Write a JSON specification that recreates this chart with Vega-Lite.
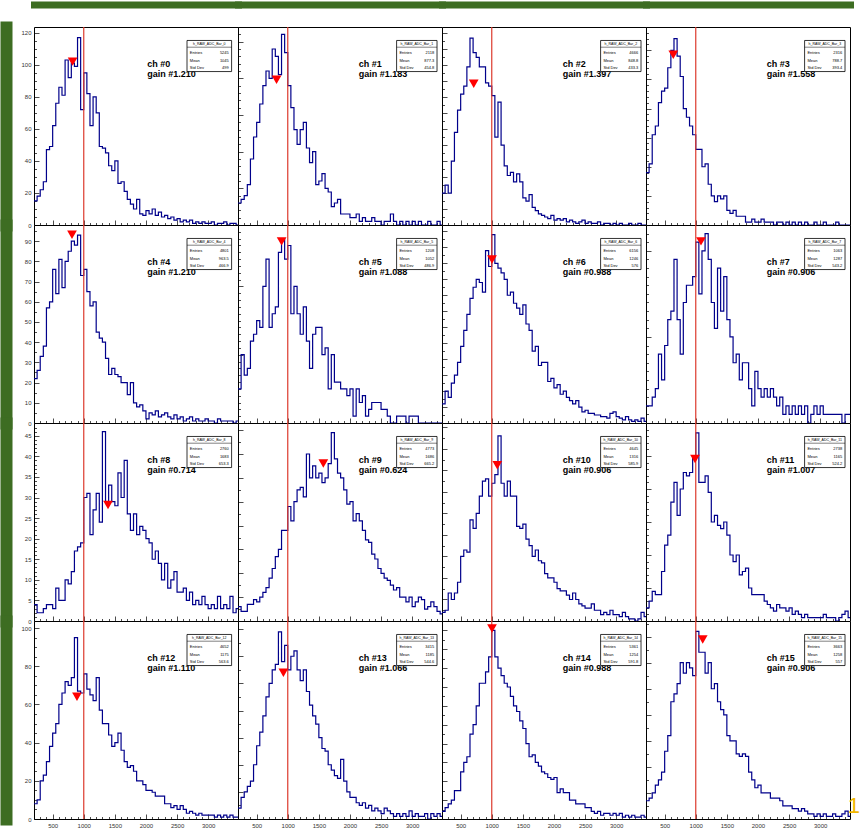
{
"$schema":"https://vega.github.io/schema/vega-lite/v6.json",
"background":"white",
"padding":{"left":5,"top":4,"right":0,"bottom":0},
"columns":4,"spacing":0,"bounds":"flush",
"datasets":{
"hist":[
{"ch":0,"adc":200,"n":15},{"ch":0,"adc":250,"n":18},{"ch":0,"adc":300,"n":22},{"ch":0,"adc":350,"n":27},{"ch":0,"adc":400,"n":47},{"ch":0,"adc":450,"n":49},{"ch":0,"adc":500,"n":62},{"ch":0,"adc":550,"n":76},{"ch":0,"adc":600,"n":86},{"ch":0,"adc":650,"n":81},{"ch":0,"adc":700,"n":103},{"ch":0,"adc":750,"n":92},{"ch":0,"adc":800,"n":101},{"ch":0,"adc":850,"n":99},{"ch":0,"adc":900,"n":117},{"ch":0,"adc":950,"n":72},{"ch":0,"adc":1000,"n":95},{"ch":0,"adc":1050,"n":82},{"ch":0,"adc":1100,"n":62},{"ch":0,"adc":1150,"n":80},{"ch":0,"adc":1200,"n":70},{"ch":0,"adc":1250,"n":49},{"ch":0,"adc":1300,"n":48},{"ch":0,"adc":1350,"n":45},{"ch":0,"adc":1400,"n":37},{"ch":0,"adc":1450,"n":34},{"ch":0,"adc":1500,"n":40},{"ch":0,"adc":1550,"n":26},{"ch":0,"adc":1600,"n":27},{"ch":0,"adc":1650,"n":21},{"ch":0,"adc":1700,"n":16},{"ch":0,"adc":1750,"n":13},{"ch":0,"adc":1800,"n":10},{"ch":0,"adc":1850,"n":16},{"ch":0,"adc":1900,"n":7},{"ch":0,"adc":1950,"n":6},{"ch":0,"adc":2000,"n":9},{"ch":0,"adc":2050,"n":7},{"ch":0,"adc":2100,"n":10},{"ch":0,"adc":2150,"n":6},{"ch":0,"adc":2200,"n":8},{"ch":0,"adc":2250,"n":5},{"ch":0,"adc":2300,"n":6},{"ch":0,"adc":2350,"n":4},{"ch":0,"adc":2400,"n":5},{"ch":0,"adc":2450,"n":3},{"ch":0,"adc":2500,"n":4},{"ch":0,"adc":2550,"n":2},{"ch":0,"adc":2600,"n":3},{"ch":0,"adc":2650,"n":2},{"ch":0,"adc":2700,"n":3},{"ch":0,"adc":2750,"n":1},{"ch":0,"adc":2800,"n":2},{"ch":0,"adc":2850,"n":1},{"ch":0,"adc":2900,"n":2},{"ch":0,"adc":2950,"n":1},{"ch":0,"adc":3000,"n":1},{"ch":0,"adc":3050,"n":2},{"ch":0,"adc":3100,"n":0},{"ch":0,"adc":3150,"n":1},{"ch":0,"adc":3200,"n":1},{"ch":0,"adc":3250,"n":2},{"ch":0,"adc":3300,"n":0},{"ch":0,"adc":3350,"n":1},{"ch":0,"adc":3400,"n":1},{"ch":0,"adc":3450,"n":0},{"ch":0,"adc":3500,"n":1},
{"ch":1,"adc":200,"n":6},{"ch":1,"adc":250,"n":7},{"ch":1,"adc":300,"n":8},{"ch":1,"adc":350,"n":11},{"ch":1,"adc":400,"n":18},{"ch":1,"adc":450,"n":24},{"ch":1,"adc":500,"n":28},{"ch":1,"adc":550,"n":33},{"ch":1,"adc":600,"n":38},{"ch":1,"adc":650,"n":42},{"ch":1,"adc":700,"n":40},{"ch":1,"adc":750,"n":48},{"ch":1,"adc":800,"n":46},{"ch":1,"adc":850,"n":41},{"ch":1,"adc":900,"n":52},{"ch":1,"adc":950,"n":47},{"ch":1,"adc":1000,"n":38},{"ch":1,"adc":1050,"n":32},{"ch":1,"adc":1100,"n":26},{"ch":1,"adc":1150,"n":22},{"ch":1,"adc":1200,"n":26},{"ch":1,"adc":1250,"n":28},{"ch":1,"adc":1300,"n":21},{"ch":1,"adc":1350,"n":17},{"ch":1,"adc":1400,"n":20},{"ch":1,"adc":1450,"n":11},{"ch":1,"adc":1500,"n":12},{"ch":1,"adc":1550,"n":14},{"ch":1,"adc":1600,"n":10},{"ch":1,"adc":1650,"n":9},{"ch":1,"adc":1700,"n":5},{"ch":1,"adc":1750,"n":6},{"ch":1,"adc":1800,"n":7},{"ch":1,"adc":1850,"n":3},{"ch":1,"adc":1900,"n":3},{"ch":1,"adc":1950,"n":3},{"ch":1,"adc":2000,"n":2},{"ch":1,"adc":2050,"n":2},{"ch":1,"adc":2100,"n":3},{"ch":1,"adc":2150,"n":1},{"ch":1,"adc":2200,"n":2},{"ch":1,"adc":2250,"n":1},{"ch":1,"adc":2300,"n":1},{"ch":1,"adc":2350,"n":2},{"ch":1,"adc":2400,"n":1},{"ch":1,"adc":2450,"n":1},{"ch":1,"adc":2500,"n":0},{"ch":1,"adc":2550,"n":1},{"ch":1,"adc":2600,"n":1},{"ch":1,"adc":2650,"n":3},{"ch":1,"adc":2700,"n":1},{"ch":1,"adc":2750,"n":0},{"ch":1,"adc":2800,"n":1},{"ch":1,"adc":2850,"n":0},{"ch":1,"adc":2900,"n":1},{"ch":1,"adc":2950,"n":0},{"ch":1,"adc":3000,"n":1},{"ch":1,"adc":3050,"n":0},{"ch":1,"adc":3100,"n":1},{"ch":1,"adc":3150,"n":0},{"ch":1,"adc":3200,"n":0},{"ch":1,"adc":3250,"n":1},{"ch":1,"adc":3300,"n":0},{"ch":1,"adc":3350,"n":0},{"ch":1,"adc":3400,"n":1},{"ch":1,"adc":3450,"n":0},{"ch":1,"adc":3500,"n":0},
{"ch":2,"adc":200,"n":20},{"ch":2,"adc":250,"n":25},{"ch":2,"adc":300,"n":20},{"ch":2,"adc":350,"n":40},{"ch":2,"adc":400,"n":58},{"ch":2,"adc":450,"n":72},{"ch":2,"adc":500,"n":82},{"ch":2,"adc":550,"n":87},{"ch":2,"adc":600,"n":99},{"ch":2,"adc":650,"n":117},{"ch":2,"adc":700,"n":108},{"ch":2,"adc":750,"n":105},{"ch":2,"adc":800,"n":99},{"ch":2,"adc":850,"n":99},{"ch":2,"adc":900,"n":89},{"ch":2,"adc":950,"n":87},{"ch":2,"adc":1000,"n":81},{"ch":2,"adc":1050,"n":55},{"ch":2,"adc":1100,"n":77},{"ch":2,"adc":1150,"n":50},{"ch":2,"adc":1200,"n":37},{"ch":2,"adc":1250,"n":31},{"ch":2,"adc":1300,"n":33},{"ch":2,"adc":1350,"n":27},{"ch":2,"adc":1400,"n":32},{"ch":2,"adc":1450,"n":27},{"ch":2,"adc":1500,"n":17},{"ch":2,"adc":1550,"n":15},{"ch":2,"adc":1600,"n":19},{"ch":2,"adc":1650,"n":11},{"ch":2,"adc":1700,"n":9},{"ch":2,"adc":1750,"n":7},{"ch":2,"adc":1800,"n":6},{"ch":2,"adc":1850,"n":5},{"ch":2,"adc":1900,"n":4},{"ch":2,"adc":1950,"n":6},{"ch":2,"adc":2000,"n":3},{"ch":2,"adc":2050,"n":4},{"ch":2,"adc":2100,"n":3},{"ch":2,"adc":2150,"n":4},{"ch":2,"adc":2200,"n":2},{"ch":2,"adc":2250,"n":3},{"ch":2,"adc":2300,"n":2},{"ch":2,"adc":2350,"n":1},{"ch":2,"adc":2400,"n":2},{"ch":2,"adc":2450,"n":3},{"ch":2,"adc":2500,"n":1},{"ch":2,"adc":2550,"n":2},{"ch":2,"adc":2600,"n":1},{"ch":2,"adc":2650,"n":1},{"ch":2,"adc":2700,"n":2},{"ch":2,"adc":2750,"n":0},{"ch":2,"adc":2800,"n":1},{"ch":2,"adc":2850,"n":1},{"ch":2,"adc":2900,"n":0},{"ch":2,"adc":2950,"n":1},{"ch":2,"adc":3000,"n":0},{"ch":2,"adc":3050,"n":1},{"ch":2,"adc":3100,"n":0},{"ch":2,"adc":3150,"n":0},{"ch":2,"adc":3200,"n":1},{"ch":2,"adc":3250,"n":0},{"ch":2,"adc":3300,"n":0},{"ch":2,"adc":3350,"n":1},{"ch":2,"adc":3400,"n":0},{"ch":2,"adc":3450,"n":0},{"ch":2,"adc":3500,"n":1},
{"ch":3,"adc":200,"n":18},{"ch":3,"adc":250,"n":21},{"ch":3,"adc":300,"n":31},{"ch":3,"adc":350,"n":34},{"ch":3,"adc":400,"n":42},{"ch":3,"adc":450,"n":46},{"ch":3,"adc":500,"n":47},{"ch":3,"adc":550,"n":54},{"ch":3,"adc":600,"n":60},{"ch":3,"adc":650,"n":64},{"ch":3,"adc":700,"n":58},{"ch":3,"adc":750,"n":51},{"ch":3,"adc":800,"n":40},{"ch":3,"adc":850,"n":37},{"ch":3,"adc":900,"n":34},{"ch":3,"adc":950,"n":31},{"ch":3,"adc":1000,"n":26},{"ch":3,"adc":1050,"n":26},{"ch":3,"adc":1100,"n":20},{"ch":3,"adc":1150,"n":21},{"ch":3,"adc":1200,"n":14},{"ch":3,"adc":1250,"n":10},{"ch":3,"adc":1300,"n":8},{"ch":3,"adc":1350,"n":10},{"ch":3,"adc":1400,"n":9},{"ch":3,"adc":1450,"n":10},{"ch":3,"adc":1500,"n":5},{"ch":3,"adc":1550,"n":4},{"ch":3,"adc":1600,"n":5},{"ch":3,"adc":1650,"n":3},{"ch":3,"adc":1700,"n":3},{"ch":3,"adc":1750,"n":3},{"ch":3,"adc":1800,"n":1},{"ch":3,"adc":1850,"n":1},{"ch":3,"adc":1900,"n":2},{"ch":3,"adc":1950,"n":1},{"ch":3,"adc":2000,"n":1},{"ch":3,"adc":2050,"n":2},{"ch":3,"adc":2100,"n":1},{"ch":3,"adc":2150,"n":1},{"ch":3,"adc":2200,"n":1},{"ch":3,"adc":2250,"n":0},{"ch":3,"adc":2300,"n":1},{"ch":3,"adc":2350,"n":1},{"ch":3,"adc":2400,"n":0},{"ch":3,"adc":2450,"n":1},{"ch":3,"adc":2500,"n":0},{"ch":3,"adc":2550,"n":1},{"ch":3,"adc":2600,"n":0},{"ch":3,"adc":2650,"n":1},{"ch":3,"adc":2700,"n":0},{"ch":3,"adc":2750,"n":1},{"ch":3,"adc":2800,"n":0},{"ch":3,"adc":2850,"n":0},{"ch":3,"adc":2900,"n":1},{"ch":3,"adc":2950,"n":0},{"ch":3,"adc":3000,"n":0},{"ch":3,"adc":3050,"n":1},{"ch":3,"adc":3100,"n":0},{"ch":3,"adc":3150,"n":0},{"ch":3,"adc":3200,"n":0},{"ch":3,"adc":3250,"n":1},{"ch":3,"adc":3300,"n":0},{"ch":3,"adc":3350,"n":0},{"ch":3,"adc":3400,"n":0},{"ch":3,"adc":3450,"n":0},{"ch":3,"adc":3500,"n":0},
{"ch":4,"adc":200,"n":22},{"ch":4,"adc":250,"n":26},{"ch":4,"adc":300,"n":33},{"ch":4,"adc":350,"n":38},{"ch":4,"adc":400,"n":57},{"ch":4,"adc":450,"n":60},{"ch":4,"adc":500,"n":76},{"ch":4,"adc":550,"n":64},{"ch":4,"adc":600,"n":81},{"ch":4,"adc":650,"n":67},{"ch":4,"adc":700,"n":80},{"ch":4,"adc":750,"n":85},{"ch":4,"adc":800,"n":90},{"ch":4,"adc":850,"n":88},{"ch":4,"adc":900,"n":93},{"ch":4,"adc":950,"n":73},{"ch":4,"adc":1000,"n":76},{"ch":4,"adc":1050,"n":65},{"ch":4,"adc":1100,"n":58},{"ch":4,"adc":1150,"n":60},{"ch":4,"adc":1200,"n":45},{"ch":4,"adc":1250,"n":42},{"ch":4,"adc":1300,"n":40},{"ch":4,"adc":1350,"n":32},{"ch":4,"adc":1400,"n":24},{"ch":4,"adc":1450,"n":27},{"ch":4,"adc":1500,"n":24},{"ch":4,"adc":1550,"n":23},{"ch":4,"adc":1600,"n":20},{"ch":4,"adc":1650,"n":20},{"ch":4,"adc":1700,"n":14},{"ch":4,"adc":1750,"n":20},{"ch":4,"adc":1800,"n":10},{"ch":4,"adc":1850,"n":8},{"ch":4,"adc":1900,"n":9},{"ch":4,"adc":1950,"n":6},{"ch":4,"adc":2000,"n":2},{"ch":4,"adc":2050,"n":5},{"ch":4,"adc":2100,"n":4},{"ch":4,"adc":2150,"n":6},{"ch":4,"adc":2200,"n":3},{"ch":4,"adc":2250,"n":4},{"ch":4,"adc":2300,"n":5},{"ch":4,"adc":2350,"n":3},{"ch":4,"adc":2400,"n":2},{"ch":4,"adc":2450,"n":4},{"ch":4,"adc":2500,"n":2},{"ch":4,"adc":2550,"n":3},{"ch":4,"adc":2600,"n":1},{"ch":4,"adc":2650,"n":2},{"ch":4,"adc":2700,"n":3},{"ch":4,"adc":2750,"n":1},{"ch":4,"adc":2800,"n":2},{"ch":4,"adc":2850,"n":1},{"ch":4,"adc":2900,"n":1},{"ch":4,"adc":2950,"n":2},{"ch":4,"adc":3000,"n":1},{"ch":4,"adc":3050,"n":1},{"ch":4,"adc":3100,"n":0},{"ch":4,"adc":3150,"n":2},{"ch":4,"adc":3200,"n":1},{"ch":4,"adc":3250,"n":1},{"ch":4,"adc":3300,"n":1},{"ch":4,"adc":3350,"n":1},{"ch":4,"adc":3400,"n":0},{"ch":4,"adc":3450,"n":1},{"ch":4,"adc":3500,"n":1},
{"ch":5,"adc":200,"n":5},{"ch":5,"adc":250,"n":10},{"ch":5,"adc":300,"n":7},{"ch":5,"adc":350,"n":8},{"ch":5,"adc":400,"n":12},{"ch":5,"adc":450,"n":13},{"ch":5,"adc":500,"n":15},{"ch":5,"adc":550,"n":14},{"ch":5,"adc":600,"n":20},{"ch":5,"adc":650,"n":24},{"ch":5,"adc":700,"n":14},{"ch":5,"adc":750,"n":16},{"ch":5,"adc":800,"n":17},{"ch":5,"adc":850,"n":25},{"ch":5,"adc":900,"n":27},{"ch":5,"adc":950,"n":24},{"ch":5,"adc":1000,"n":26},{"ch":5,"adc":1050,"n":16},{"ch":5,"adc":1100,"n":20},{"ch":5,"adc":1150,"n":16},{"ch":5,"adc":1200,"n":13},{"ch":5,"adc":1250,"n":17},{"ch":5,"adc":1300,"n":12},{"ch":5,"adc":1350,"n":8},{"ch":5,"adc":1400,"n":13},{"ch":5,"adc":1450,"n":14},{"ch":5,"adc":1500,"n":14},{"ch":5,"adc":1550,"n":10},{"ch":5,"adc":1600,"n":11},{"ch":5,"adc":1650,"n":5},{"ch":5,"adc":1700,"n":10},{"ch":5,"adc":1750,"n":6},{"ch":5,"adc":1800,"n":6},{"ch":5,"adc":1850,"n":5},{"ch":5,"adc":1900,"n":5},{"ch":5,"adc":1950,"n":4},{"ch":5,"adc":2000,"n":5},{"ch":5,"adc":2050,"n":1},{"ch":5,"adc":2100,"n":5},{"ch":5,"adc":2150,"n":3},{"ch":5,"adc":2200,"n":4},{"ch":5,"adc":2250,"n":1},{"ch":5,"adc":2300,"n":2},{"ch":5,"adc":2350,"n":3},{"ch":5,"adc":2400,"n":3},{"ch":5,"adc":2450,"n":3},{"ch":5,"adc":2500,"n":2},{"ch":5,"adc":2550,"n":2},{"ch":5,"adc":2600,"n":1},{"ch":5,"adc":2650,"n":0},{"ch":5,"adc":2700,"n":0},{"ch":5,"adc":2750,"n":1},{"ch":5,"adc":2800,"n":1},{"ch":5,"adc":2850,"n":1},{"ch":5,"adc":2900,"n":0},{"ch":5,"adc":2950,"n":1},{"ch":5,"adc":3000,"n":1},{"ch":5,"adc":3050,"n":1},{"ch":5,"adc":3100,"n":0},{"ch":5,"adc":3150,"n":0},{"ch":5,"adc":3200,"n":0},{"ch":5,"adc":3250,"n":0},{"ch":5,"adc":3300,"n":0},{"ch":5,"adc":3350,"n":0},{"ch":5,"adc":3400,"n":0},{"ch":5,"adc":3450,"n":0},{"ch":5,"adc":3500,"n":0},
{"ch":6,"adc":200,"n":12},{"ch":6,"adc":250,"n":20},{"ch":6,"adc":300,"n":16},{"ch":6,"adc":350,"n":25},{"ch":6,"adc":400,"n":30},{"ch":6,"adc":450,"n":38},{"ch":6,"adc":500,"n":48},{"ch":6,"adc":550,"n":58},{"ch":6,"adc":600,"n":68},{"ch":6,"adc":650,"n":78},{"ch":6,"adc":700,"n":85},{"ch":6,"adc":750,"n":90},{"ch":6,"adc":800,"n":88},{"ch":6,"adc":850,"n":82},{"ch":6,"adc":900,"n":108},{"ch":6,"adc":950,"n":98},{"ch":6,"adc":1000,"n":118},{"ch":6,"adc":1050,"n":100},{"ch":6,"adc":1100,"n":97},{"ch":6,"adc":1150,"n":94},{"ch":6,"adc":1200,"n":90},{"ch":6,"adc":1250,"n":80},{"ch":6,"adc":1300,"n":82},{"ch":6,"adc":1350,"n":75},{"ch":6,"adc":1400,"n":72},{"ch":6,"adc":1450,"n":68},{"ch":6,"adc":1500,"n":74},{"ch":6,"adc":1550,"n":62},{"ch":6,"adc":1600,"n":58},{"ch":6,"adc":1650,"n":45},{"ch":6,"adc":1700,"n":48},{"ch":6,"adc":1750,"n":36},{"ch":6,"adc":1800,"n":38},{"ch":6,"adc":1850,"n":38},{"ch":6,"adc":1900,"n":26},{"ch":6,"adc":1950,"n":28},{"ch":6,"adc":2000,"n":22},{"ch":6,"adc":2050,"n":24},{"ch":6,"adc":2100,"n":18},{"ch":6,"adc":2150,"n":20},{"ch":6,"adc":2200,"n":16},{"ch":6,"adc":2250,"n":14},{"ch":6,"adc":2300,"n":12},{"ch":6,"adc":2350,"n":14},{"ch":6,"adc":2400,"n":10},{"ch":6,"adc":2450,"n":7},{"ch":6,"adc":2500,"n":8},{"ch":6,"adc":2550,"n":6},{"ch":6,"adc":2600,"n":6},{"ch":6,"adc":2650,"n":5},{"ch":6,"adc":2700,"n":5},{"ch":6,"adc":2750,"n":4},{"ch":6,"adc":2800,"n":4},{"ch":6,"adc":2850,"n":3},{"ch":6,"adc":2900,"n":6},{"ch":6,"adc":2950,"n":7},{"ch":6,"adc":3000,"n":4},{"ch":6,"adc":3050,"n":3},{"ch":6,"adc":3100,"n":2},{"ch":6,"adc":3150,"n":4},{"ch":6,"adc":3200,"n":2},{"ch":6,"adc":3250,"n":1},{"ch":6,"adc":3300,"n":2},{"ch":6,"adc":3350,"n":1},{"ch":6,"adc":3400,"n":3},{"ch":6,"adc":3450,"n":1},{"ch":6,"adc":3500,"n":2},
{"ch":7,"adc":200,"n":2},{"ch":7,"adc":250,"n":2},{"ch":7,"adc":300,"n":3},{"ch":7,"adc":350,"n":4},{"ch":7,"adc":400,"n":8},{"ch":7,"adc":450,"n":5},{"ch":7,"adc":500,"n":9},{"ch":7,"adc":550,"n":12},{"ch":7,"adc":600,"n":13},{"ch":7,"adc":650,"n":19},{"ch":7,"adc":700,"n":12},{"ch":7,"adc":750,"n":8},{"ch":7,"adc":800,"n":14},{"ch":7,"adc":850,"n":16},{"ch":7,"adc":900,"n":16},{"ch":7,"adc":950,"n":17},{"ch":7,"adc":1000,"n":21},{"ch":7,"adc":1050,"n":15},{"ch":7,"adc":1100,"n":20},{"ch":7,"adc":1150,"n":22},{"ch":7,"adc":1200,"n":19},{"ch":7,"adc":1250,"n":14},{"ch":7,"adc":1300,"n":11},{"ch":7,"adc":1350,"n":18},{"ch":7,"adc":1400,"n":13},{"ch":7,"adc":1450,"n":17},{"ch":7,"adc":1500,"n":12},{"ch":7,"adc":1550,"n":10},{"ch":7,"adc":1600,"n":7},{"ch":7,"adc":1650,"n":8},{"ch":7,"adc":1700,"n":5},{"ch":7,"adc":1750,"n":7},{"ch":7,"adc":1800,"n":7},{"ch":7,"adc":1850,"n":4},{"ch":7,"adc":1900,"n":2},{"ch":7,"adc":1950,"n":6},{"ch":7,"adc":2000,"n":4},{"ch":7,"adc":2050,"n":3},{"ch":7,"adc":2100,"n":4},{"ch":7,"adc":2150,"n":3},{"ch":7,"adc":2200,"n":4},{"ch":7,"adc":2250,"n":3},{"ch":7,"adc":2300,"n":2},{"ch":7,"adc":2350,"n":3},{"ch":7,"adc":2400,"n":1},{"ch":7,"adc":2450,"n":2},{"ch":7,"adc":2500,"n":1},{"ch":7,"adc":2550,"n":2},{"ch":7,"adc":2600,"n":1},{"ch":7,"adc":2650,"n":2},{"ch":7,"adc":2700,"n":1},{"ch":7,"adc":2750,"n":2},{"ch":7,"adc":2800,"n":0},{"ch":7,"adc":2850,"n":1},{"ch":7,"adc":2900,"n":2},{"ch":7,"adc":2950,"n":1},{"ch":7,"adc":3000,"n":2},{"ch":7,"adc":3050,"n":1},{"ch":7,"adc":3100,"n":1},{"ch":7,"adc":3150,"n":1},{"ch":7,"adc":3200,"n":1},{"ch":7,"adc":3250,"n":1},{"ch":7,"adc":3300,"n":1},{"ch":7,"adc":3350,"n":0},{"ch":7,"adc":3400,"n":1},{"ch":7,"adc":3450,"n":1},{"ch":7,"adc":3500,"n":1},
{"ch":8,"adc":200,"n":4},{"ch":8,"adc":250,"n":2},{"ch":8,"adc":300,"n":2},{"ch":8,"adc":350,"n":3},{"ch":8,"adc":400,"n":4},{"ch":8,"adc":450,"n":4},{"ch":8,"adc":500,"n":3},{"ch":8,"adc":550,"n":8},{"ch":8,"adc":600,"n":5},{"ch":8,"adc":650,"n":5},{"ch":8,"adc":700,"n":10},{"ch":8,"adc":750,"n":9},{"ch":8,"adc":800,"n":12},{"ch":8,"adc":850,"n":17},{"ch":8,"adc":900,"n":18},{"ch":8,"adc":950,"n":19},{"ch":8,"adc":1000,"n":30},{"ch":8,"adc":1050,"n":31},{"ch":8,"adc":1100,"n":21},{"ch":8,"adc":1150,"n":27},{"ch":8,"adc":1200,"n":31},{"ch":8,"adc":1250,"n":24},{"ch":8,"adc":1300,"n":46},{"ch":8,"adc":1350,"n":29},{"ch":8,"adc":1400,"n":33},{"ch":8,"adc":1450,"n":29},{"ch":8,"adc":1500,"n":28},{"ch":8,"adc":1550,"n":36},{"ch":8,"adc":1600,"n":30},{"ch":8,"adc":1650,"n":39},{"ch":8,"adc":1700,"n":26},{"ch":8,"adc":1750,"n":22},{"ch":8,"adc":1800,"n":26},{"ch":8,"adc":1850,"n":21},{"ch":8,"adc":1900,"n":23},{"ch":8,"adc":1950,"n":22},{"ch":8,"adc":2000,"n":20},{"ch":8,"adc":2050,"n":19},{"ch":8,"adc":2100,"n":15},{"ch":8,"adc":2150,"n":17},{"ch":8,"adc":2200,"n":14},{"ch":8,"adc":2250,"n":10},{"ch":8,"adc":2300,"n":14},{"ch":8,"adc":2350,"n":8},{"ch":8,"adc":2400,"n":10},{"ch":8,"adc":2450,"n":12},{"ch":8,"adc":2500,"n":7},{"ch":8,"adc":2550,"n":7},{"ch":8,"adc":2600,"n":8},{"ch":8,"adc":2650,"n":5},{"ch":8,"adc":2700,"n":7},{"ch":8,"adc":2750,"n":4},{"ch":8,"adc":2800,"n":5},{"ch":8,"adc":2850,"n":4},{"ch":8,"adc":2900,"n":6},{"ch":8,"adc":2950,"n":4},{"ch":8,"adc":3000,"n":3},{"ch":8,"adc":3050,"n":4},{"ch":8,"adc":3100,"n":3},{"ch":8,"adc":3150,"n":6},{"ch":8,"adc":3200,"n":3},{"ch":8,"adc":3250,"n":4},{"ch":8,"adc":3300,"n":3},{"ch":8,"adc":3350,"n":6},{"ch":8,"adc":3400,"n":2},{"ch":8,"adc":3450,"n":3},{"ch":8,"adc":3500,"n":4},
{"ch":9,"adc":200,"n":6},{"ch":9,"adc":250,"n":4},{"ch":9,"adc":300,"n":4},{"ch":9,"adc":350,"n":7},{"ch":9,"adc":400,"n":7},{"ch":9,"adc":450,"n":9},{"ch":9,"adc":500,"n":8},{"ch":9,"adc":550,"n":10},{"ch":9,"adc":600,"n":12},{"ch":9,"adc":650,"n":14},{"ch":9,"adc":700,"n":18},{"ch":9,"adc":750,"n":22},{"ch":9,"adc":800,"n":27},{"ch":9,"adc":850,"n":30},{"ch":9,"adc":900,"n":38},{"ch":9,"adc":950,"n":38},{"ch":9,"adc":1000,"n":48},{"ch":9,"adc":1050,"n":42},{"ch":9,"adc":1100,"n":50},{"ch":9,"adc":1150,"n":55},{"ch":9,"adc":1200,"n":56},{"ch":9,"adc":1250,"n":52},{"ch":9,"adc":1300,"n":70},{"ch":9,"adc":1350,"n":60},{"ch":9,"adc":1400,"n":65},{"ch":9,"adc":1450,"n":60},{"ch":9,"adc":1500,"n":62},{"ch":9,"adc":1550,"n":58},{"ch":9,"adc":1600,"n":60},{"ch":9,"adc":1650,"n":66},{"ch":9,"adc":1700,"n":79},{"ch":9,"adc":1750,"n":68},{"ch":9,"adc":1800,"n":62},{"ch":9,"adc":1850,"n":60},{"ch":9,"adc":1900,"n":55},{"ch":9,"adc":1950,"n":49},{"ch":9,"adc":2000,"n":50},{"ch":9,"adc":2050,"n":42},{"ch":9,"adc":2100,"n":45},{"ch":9,"adc":2150,"n":42},{"ch":9,"adc":2200,"n":38},{"ch":9,"adc":2250,"n":34},{"ch":9,"adc":2300,"n":33},{"ch":9,"adc":2350,"n":28},{"ch":9,"adc":2400,"n":26},{"ch":9,"adc":2450,"n":22},{"ch":9,"adc":2500,"n":20},{"ch":9,"adc":2550,"n":18},{"ch":9,"adc":2600,"n":17},{"ch":9,"adc":2650,"n":15},{"ch":9,"adc":2700,"n":13},{"ch":9,"adc":2750,"n":14},{"ch":9,"adc":2800,"n":10},{"ch":9,"adc":2850,"n":10},{"ch":9,"adc":2900,"n":8},{"ch":9,"adc":2950,"n":10},{"ch":9,"adc":3000,"n":6},{"ch":9,"adc":3050,"n":8},{"ch":9,"adc":3100,"n":10},{"ch":9,"adc":3150,"n":9},{"ch":9,"adc":3200,"n":5},{"ch":9,"adc":3250,"n":6},{"ch":9,"adc":3300,"n":8},{"ch":9,"adc":3350,"n":6},{"ch":9,"adc":3400,"n":4},{"ch":9,"adc":3450,"n":3},{"ch":9,"adc":3500,"n":5},
{"ch":10,"adc":200,"n":4},{"ch":10,"adc":250,"n":5},{"ch":10,"adc":300,"n":13},{"ch":10,"adc":350,"n":10},{"ch":10,"adc":400,"n":13},{"ch":10,"adc":450,"n":18},{"ch":10,"adc":500,"n":30},{"ch":10,"adc":550,"n":33},{"ch":10,"adc":600,"n":32},{"ch":10,"adc":650,"n":47},{"ch":10,"adc":700,"n":43},{"ch":10,"adc":750,"n":50},{"ch":10,"adc":800,"n":58},{"ch":10,"adc":850,"n":65},{"ch":10,"adc":900,"n":66},{"ch":10,"adc":950,"n":58},{"ch":10,"adc":1000,"n":64},{"ch":10,"adc":1050,"n":68},{"ch":10,"adc":1100,"n":86},{"ch":10,"adc":1150,"n":64},{"ch":10,"adc":1200,"n":58},{"ch":10,"adc":1250,"n":65},{"ch":10,"adc":1300,"n":58},{"ch":10,"adc":1350,"n":58},{"ch":10,"adc":1400,"n":44},{"ch":10,"adc":1450,"n":43},{"ch":10,"adc":1500,"n":45},{"ch":10,"adc":1550,"n":38},{"ch":10,"adc":1600,"n":35},{"ch":10,"adc":1650,"n":30},{"ch":10,"adc":1700,"n":33},{"ch":10,"adc":1750,"n":28},{"ch":10,"adc":1800,"n":27},{"ch":10,"adc":1850,"n":22},{"ch":10,"adc":1900,"n":20},{"ch":10,"adc":1950,"n":20},{"ch":10,"adc":2000,"n":18},{"ch":10,"adc":2050,"n":15},{"ch":10,"adc":2100,"n":14},{"ch":10,"adc":2150,"n":14},{"ch":10,"adc":2200,"n":12},{"ch":10,"adc":2250,"n":10},{"ch":10,"adc":2300,"n":13},{"ch":10,"adc":2350,"n":10},{"ch":10,"adc":2400,"n":8},{"ch":10,"adc":2450,"n":7},{"ch":10,"adc":2500,"n":6},{"ch":10,"adc":2550,"n":6},{"ch":10,"adc":2600,"n":8},{"ch":10,"adc":2650,"n":5},{"ch":10,"adc":2700,"n":5},{"ch":10,"adc":2750,"n":3},{"ch":10,"adc":2800,"n":4},{"ch":10,"adc":2850,"n":3},{"ch":10,"adc":2900,"n":5},{"ch":10,"adc":2950,"n":3},{"ch":10,"adc":3000,"n":3},{"ch":10,"adc":3050,"n":2},{"ch":10,"adc":3100,"n":4},{"ch":10,"adc":3150,"n":2},{"ch":10,"adc":3200,"n":1},{"ch":10,"adc":3250,"n":1},{"ch":10,"adc":3300,"n":0},{"ch":10,"adc":3350,"n":1},{"ch":10,"adc":3400,"n":4},{"ch":10,"adc":3450,"n":2},{"ch":10,"adc":3500,"n":2},
{"ch":11,"adc":200,"n":4},{"ch":11,"adc":250,"n":6},{"ch":11,"adc":300,"n":9},{"ch":11,"adc":350,"n":8},{"ch":11,"adc":400,"n":8},{"ch":11,"adc":450,"n":15},{"ch":11,"adc":500,"n":23},{"ch":11,"adc":550,"n":26},{"ch":11,"adc":600,"n":36},{"ch":11,"adc":650,"n":42},{"ch":11,"adc":700,"n":32},{"ch":11,"adc":750,"n":40},{"ch":11,"adc":800,"n":45},{"ch":11,"adc":850,"n":44},{"ch":11,"adc":900,"n":45},{"ch":11,"adc":950,"n":50},{"ch":11,"adc":1000,"n":57},{"ch":11,"adc":1050,"n":42},{"ch":11,"adc":1100,"n":42},{"ch":11,"adc":1150,"n":44},{"ch":11,"adc":1200,"n":39},{"ch":11,"adc":1250,"n":30},{"ch":11,"adc":1300,"n":32},{"ch":11,"adc":1350,"n":29},{"ch":11,"adc":1400,"n":28},{"ch":11,"adc":1450,"n":30},{"ch":11,"adc":1500,"n":26},{"ch":11,"adc":1550,"n":20},{"ch":11,"adc":1600,"n":18},{"ch":11,"adc":1650,"n":20},{"ch":11,"adc":1700,"n":14},{"ch":11,"adc":1750,"n":15},{"ch":11,"adc":1800,"n":16},{"ch":11,"adc":1850,"n":10},{"ch":11,"adc":1900,"n":8},{"ch":11,"adc":1950,"n":8},{"ch":11,"adc":2000,"n":8},{"ch":11,"adc":2050,"n":8},{"ch":11,"adc":2100,"n":6},{"ch":11,"adc":2150,"n":5},{"ch":11,"adc":2200,"n":4},{"ch":11,"adc":2250,"n":3},{"ch":11,"adc":2300,"n":5},{"ch":11,"adc":2350,"n":4},{"ch":11,"adc":2400,"n":4},{"ch":11,"adc":2450,"n":3},{"ch":11,"adc":2500,"n":4},{"ch":11,"adc":2550,"n":2},{"ch":11,"adc":2600,"n":3},{"ch":11,"adc":2650,"n":2},{"ch":11,"adc":2700,"n":1},{"ch":11,"adc":2750,"n":2},{"ch":11,"adc":2800,"n":1},{"ch":11,"adc":2850,"n":1},{"ch":11,"adc":2900,"n":1},{"ch":11,"adc":2950,"n":1},{"ch":11,"adc":3000,"n":1},{"ch":11,"adc":3050,"n":2},{"ch":11,"adc":3100,"n":1},{"ch":11,"adc":3150,"n":1},{"ch":11,"adc":3200,"n":1},{"ch":11,"adc":3250,"n":0},{"ch":11,"adc":3300,"n":1},{"ch":11,"adc":3350,"n":2},{"ch":11,"adc":3400,"n":3},{"ch":11,"adc":3450,"n":1},{"ch":11,"adc":3500,"n":1},
{"ch":12,"adc":200,"n":8},{"ch":12,"adc":250,"n":10},{"ch":12,"adc":300,"n":20},{"ch":12,"adc":350,"n":23},{"ch":12,"adc":400,"n":30},{"ch":12,"adc":450,"n":38},{"ch":12,"adc":500,"n":45},{"ch":12,"adc":550,"n":50},{"ch":12,"adc":600,"n":60},{"ch":12,"adc":650,"n":66},{"ch":12,"adc":700,"n":72},{"ch":12,"adc":750,"n":70},{"ch":12,"adc":800,"n":74},{"ch":12,"adc":850,"n":95},{"ch":12,"adc":900,"n":67},{"ch":12,"adc":950,"n":66},{"ch":12,"adc":1000,"n":76},{"ch":12,"adc":1050,"n":68},{"ch":12,"adc":1100,"n":65},{"ch":12,"adc":1150,"n":62},{"ch":12,"adc":1200,"n":74},{"ch":12,"adc":1250,"n":57},{"ch":12,"adc":1300,"n":50},{"ch":12,"adc":1350,"n":50},{"ch":12,"adc":1400,"n":44},{"ch":12,"adc":1450,"n":38},{"ch":12,"adc":1500,"n":40},{"ch":12,"adc":1550,"n":45},{"ch":12,"adc":1600,"n":36},{"ch":12,"adc":1650,"n":30},{"ch":12,"adc":1700,"n":27},{"ch":12,"adc":1750,"n":28},{"ch":12,"adc":1800,"n":25},{"ch":12,"adc":1850,"n":20},{"ch":12,"adc":1900,"n":20},{"ch":12,"adc":1950,"n":18},{"ch":12,"adc":2000,"n":15},{"ch":12,"adc":2050,"n":15},{"ch":12,"adc":2100,"n":14},{"ch":12,"adc":2150,"n":12},{"ch":12,"adc":2200,"n":12},{"ch":12,"adc":2250,"n":12},{"ch":12,"adc":2300,"n":8},{"ch":12,"adc":2350,"n":8},{"ch":12,"adc":2400,"n":6},{"ch":12,"adc":2450,"n":7},{"ch":12,"adc":2500,"n":5},{"ch":12,"adc":2550,"n":7},{"ch":12,"adc":2600,"n":5},{"ch":12,"adc":2650,"n":3},{"ch":12,"adc":2700,"n":4},{"ch":12,"adc":2750,"n":3},{"ch":12,"adc":2800,"n":2},{"ch":12,"adc":2850,"n":3},{"ch":12,"adc":2900,"n":2},{"ch":12,"adc":2950,"n":2},{"ch":12,"adc":3000,"n":2},{"ch":12,"adc":3050,"n":2},{"ch":12,"adc":3100,"n":1},{"ch":12,"adc":3150,"n":2},{"ch":12,"adc":3200,"n":1},{"ch":12,"adc":3250,"n":2},{"ch":12,"adc":3300,"n":1},{"ch":12,"adc":3350,"n":2},{"ch":12,"adc":3400,"n":1},{"ch":12,"adc":3450,"n":1},{"ch":12,"adc":3500,"n":1},
{"ch":13,"adc":200,"n":4},{"ch":13,"adc":250,"n":8},{"ch":13,"adc":300,"n":10},{"ch":13,"adc":350,"n":12},{"ch":13,"adc":400,"n":14},{"ch":13,"adc":450,"n":20},{"ch":13,"adc":500,"n":27},{"ch":13,"adc":550,"n":32},{"ch":13,"adc":600,"n":38},{"ch":13,"adc":650,"n":45},{"ch":13,"adc":700,"n":50},{"ch":13,"adc":750,"n":55},{"ch":13,"adc":800,"n":57},{"ch":13,"adc":850,"n":69},{"ch":13,"adc":900,"n":58},{"ch":13,"adc":950,"n":64},{"ch":13,"adc":1000,"n":55},{"ch":13,"adc":1050,"n":60},{"ch":13,"adc":1100,"n":62},{"ch":13,"adc":1150,"n":55},{"ch":13,"adc":1200,"n":51},{"ch":13,"adc":1250,"n":55},{"ch":13,"adc":1300,"n":47},{"ch":13,"adc":1350,"n":42},{"ch":13,"adc":1400,"n":38},{"ch":13,"adc":1450,"n":35},{"ch":13,"adc":1500,"n":30},{"ch":13,"adc":1550,"n":26},{"ch":13,"adc":1600,"n":25},{"ch":13,"adc":1650,"n":20},{"ch":13,"adc":1700,"n":18},{"ch":13,"adc":1750,"n":16},{"ch":13,"adc":1800,"n":15},{"ch":13,"adc":1850,"n":22},{"ch":13,"adc":1900,"n":14},{"ch":13,"adc":1950,"n":10},{"ch":13,"adc":2000,"n":8},{"ch":13,"adc":2050,"n":8},{"ch":13,"adc":2100,"n":6},{"ch":13,"adc":2150,"n":5},{"ch":13,"adc":2200,"n":6},{"ch":13,"adc":2250,"n":4},{"ch":13,"adc":2300,"n":5},{"ch":13,"adc":2350,"n":3},{"ch":13,"adc":2400,"n":4},{"ch":13,"adc":2450,"n":3},{"ch":13,"adc":2500,"n":2},{"ch":13,"adc":2550,"n":4},{"ch":13,"adc":2600,"n":3},{"ch":13,"adc":2650,"n":2},{"ch":13,"adc":2700,"n":1},{"ch":13,"adc":2750,"n":2},{"ch":13,"adc":2800,"n":1},{"ch":13,"adc":2850,"n":2},{"ch":13,"adc":2900,"n":1},{"ch":13,"adc":2950,"n":3},{"ch":13,"adc":3000,"n":1},{"ch":13,"adc":3050,"n":2},{"ch":13,"adc":3100,"n":1},{"ch":13,"adc":3150,"n":1},{"ch":13,"adc":3200,"n":2},{"ch":13,"adc":3250,"n":0},{"ch":13,"adc":3300,"n":2},{"ch":13,"adc":3350,"n":1},{"ch":13,"adc":3400,"n":2},{"ch":13,"adc":3450,"n":1},{"ch":13,"adc":3500,"n":1},
{"ch":14,"adc":200,"n":4},{"ch":14,"adc":250,"n":6},{"ch":14,"adc":300,"n":8},{"ch":14,"adc":350,"n":10},{"ch":14,"adc":400,"n":15},{"ch":14,"adc":450,"n":15},{"ch":14,"adc":500,"n":25},{"ch":14,"adc":550,"n":30},{"ch":14,"adc":600,"n":33},{"ch":14,"adc":650,"n":45},{"ch":14,"adc":700,"n":50},{"ch":14,"adc":750,"n":60},{"ch":14,"adc":800,"n":72},{"ch":14,"adc":850,"n":72},{"ch":14,"adc":900,"n":78},{"ch":14,"adc":950,"n":86},{"ch":14,"adc":1000,"n":100},{"ch":14,"adc":1050,"n":86},{"ch":14,"adc":1100,"n":80},{"ch":14,"adc":1150,"n":76},{"ch":14,"adc":1200,"n":72},{"ch":14,"adc":1250,"n":70},{"ch":14,"adc":1300,"n":65},{"ch":14,"adc":1350,"n":60},{"ch":14,"adc":1400,"n":57},{"ch":14,"adc":1450,"n":52},{"ch":14,"adc":1500,"n":48},{"ch":14,"adc":1550,"n":40},{"ch":14,"adc":1600,"n":33},{"ch":14,"adc":1650,"n":34},{"ch":14,"adc":1700,"n":30},{"ch":14,"adc":1750,"n":28},{"ch":14,"adc":1800,"n":25},{"ch":14,"adc":1850,"n":24},{"ch":14,"adc":1900,"n":22},{"ch":14,"adc":1950,"n":21},{"ch":14,"adc":2000,"n":22},{"ch":14,"adc":2050,"n":14},{"ch":14,"adc":2100,"n":16},{"ch":14,"adc":2150,"n":14},{"ch":14,"adc":2200,"n":14},{"ch":14,"adc":2250,"n":10},{"ch":14,"adc":2300,"n":10},{"ch":14,"adc":2350,"n":8},{"ch":14,"adc":2400,"n":8},{"ch":14,"adc":2450,"n":8},{"ch":14,"adc":2500,"n":6},{"ch":14,"adc":2550,"n":6},{"ch":14,"adc":2600,"n":4},{"ch":14,"adc":2650,"n":3},{"ch":14,"adc":2700,"n":4},{"ch":14,"adc":2750,"n":2},{"ch":14,"adc":2800,"n":3},{"ch":14,"adc":2850,"n":3},{"ch":14,"adc":2900,"n":2},{"ch":14,"adc":2950,"n":3},{"ch":14,"adc":3000,"n":2},{"ch":14,"adc":3050,"n":3},{"ch":14,"adc":3100,"n":1},{"ch":14,"adc":3150,"n":2},{"ch":14,"adc":3200,"n":1},{"ch":14,"adc":3250,"n":2},{"ch":14,"adc":3300,"n":1},{"ch":14,"adc":3350,"n":1},{"ch":14,"adc":3400,"n":2},{"ch":14,"adc":3450,"n":1},{"ch":14,"adc":3500,"n":1},
{"ch":15,"adc":200,"n":7},{"ch":15,"adc":250,"n":8},{"ch":15,"adc":300,"n":10},{"ch":15,"adc":350,"n":13},{"ch":15,"adc":400,"n":15},{"ch":15,"adc":450,"n":18},{"ch":15,"adc":500,"n":26},{"ch":15,"adc":550,"n":32},{"ch":15,"adc":600,"n":45},{"ch":15,"adc":650,"n":48},{"ch":15,"adc":700,"n":52},{"ch":15,"adc":750,"n":60},{"ch":15,"adc":800,"n":56},{"ch":15,"adc":850,"n":60},{"ch":15,"adc":900,"n":58},{"ch":15,"adc":950,"n":55},{"ch":15,"adc":1000,"n":72},{"ch":15,"adc":1050,"n":64},{"ch":15,"adc":1100,"n":64},{"ch":15,"adc":1150,"n":56},{"ch":15,"adc":1200,"n":60},{"ch":15,"adc":1250,"n":50},{"ch":15,"adc":1300,"n":52},{"ch":15,"adc":1350,"n":45},{"ch":15,"adc":1400,"n":42},{"ch":15,"adc":1450,"n":40},{"ch":15,"adc":1500,"n":32},{"ch":15,"adc":1550,"n":30},{"ch":15,"adc":1600,"n":30},{"ch":15,"adc":1650,"n":25},{"ch":15,"adc":1700,"n":24},{"ch":15,"adc":1750,"n":25},{"ch":15,"adc":1800,"n":24},{"ch":15,"adc":1850,"n":18},{"ch":15,"adc":1900,"n":15},{"ch":15,"adc":1950,"n":12},{"ch":15,"adc":2000,"n":13},{"ch":15,"adc":2050,"n":10},{"ch":15,"adc":2100,"n":10},{"ch":15,"adc":2150,"n":10},{"ch":15,"adc":2200,"n":8},{"ch":15,"adc":2250,"n":8},{"ch":15,"adc":2300,"n":8},{"ch":15,"adc":2350,"n":7},{"ch":15,"adc":2400,"n":5},{"ch":15,"adc":2450,"n":5},{"ch":15,"adc":2500,"n":5},{"ch":15,"adc":2550,"n":4},{"ch":15,"adc":2600,"n":4},{"ch":15,"adc":2650,"n":3},{"ch":15,"adc":2700,"n":4},{"ch":15,"adc":2750,"n":3},{"ch":15,"adc":2800,"n":2},{"ch":15,"adc":2850,"n":2},{"ch":15,"adc":2900,"n":1},{"ch":15,"adc":2950,"n":2},{"ch":15,"adc":3000,"n":1},{"ch":15,"adc":3050,"n":2},{"ch":15,"adc":3100,"n":1},{"ch":15,"adc":3150,"n":1},{"ch":15,"adc":3200,"n":2},{"ch":15,"adc":3250,"n":1},{"ch":15,"adc":3300,"n":1},{"ch":15,"adc":3350,"n":2},{"ch":15,"adc":3400,"n":3},{"ch":15,"adc":3450,"n":1},{"ch":15,"adc":3500,"n":2}
],
"info":[
{"ch":0,"label":"ch #0","gain":"gain #1.210","px":821,"py":102,"h":"h_RAW_ADC_Bar_0","e":"5245","m":"1045","s":"499"},
{"ch":1,"label":"ch #1","gain":"gain #1.183","px":820,"py":39.6,"h":"h_RAW_ADC_Bar_1","e":"2118","m":"877.3","s":"454.8"},
{"ch":2,"label":"ch #2","gain":"gain #1.397","px":710,"py":88.5,"h":"h_RAW_ADC_Bar_2","e":"4666","m":"848.8","s":"433.3"},
{"ch":3,"label":"ch #3","gain":"gain #1.558","px":639,"py":58.5,"h":"h_RAW_ADC_Bar_3","e":"2316","m":"788.7","s":"393.4"},
{"ch":4,"label":"ch #4","gain":"gain #1.210","px":811,"py":93.2,"h":"h_RAW_ADC_Bar_4","e":"4801","m":"963.5","s":"466.9"},
{"ch":5,"label":"ch #5","gain":"gain #1.088","px":901,"py":26.6,"h":"h_RAW_ADC_Bar_5","e":"1208","m":"1052","s":"486.9"},
{"ch":6,"label":"ch #6","gain":"gain #0.988","px":1004,"py":102.4,"h":"h_RAW_ADC_Bar_6","e":"6156","m":"1246","s":"576"},
{"ch":7,"label":"ch #7","gain":"gain #0.906","px":1084,"py":21.1,"h":"h_RAW_ADC_Bar_7","e":"1063","m":"1287","s":"543.2"},
{"ch":8,"label":"ch #8","gain":"gain #0.714","px":1390,"py":28.2,"h":"h_RAW_ADC_Bar_8","e":"2760","m":"1683","s":"653.3"},
{"ch":9,"label":"ch #9","gain":"gain #0.624","px":1572,"py":66,"h":"h_RAW_ADC_Bar_9","e":"4773","m":"1686","s":"665.2"},
{"ch":10,"label":"ch #10","gain":"gain #0.906","px":1089,"py":72.4,"h":"h_RAW_ADC_Bar_10","e":"4645","m":"1316","s":"585.9"},
{"ch":11,"label":"ch #11","gain":"gain #1.007","px":988,"py":49.1,"h":"h_RAW_ADC_Bar_11","e":"2738","m":"1165","s":"524.2"},
{"ch":12,"label":"ch #12","gain":"gain #1.110","px":891,"py":64,"h":"h_RAW_ADC_Bar_12","e":"4652","m":"1175","s":"563.6"},
{"ch":13,"label":"ch #13","gain":"gain #1.066","px":930,"py":53.9,"h":"h_RAW_ADC_Bar_13","e":"3415","m":"1185","s":"544.6"},
{"ch":14,"label":"ch #14","gain":"gain #0.988","px":1004,"py":101,"h":"h_RAW_ADC_Bar_14","e":"5361","m":"1254","s":"591.8"},
{"ch":15,"label":"ch #15","gain":"gain #0.906","px":1112,"py":68.9,"h":"h_RAW_ADC_Bar_15","e":"3663","m":"1258","s":"557"}
]},
"concat":[
{"width":204,"height":198,"resolve":{"scale":{"y":"independent","x":"independent"}},"layer":[
{"data":{"name":"hist"},"transform":[{"filter":"datum.ch==0"}],"mark":{"type":"line","interpolate":"step-after","clip":true},"encoding":{"x":{"field":"adc","type":"quantitative","scale":{"domain":[200,3480],"nice":false},"title":null,"axis":{"tickSize":{"condition":{"test":"datum.value % 500 == 0","value":-5},"value":-2.5}}},"y":{"field":"n","type":"quantitative","scale":{"domain":[0,123.6],"nice":false},"title":null,"axis":{"labels":true,"tickCount":25,"labelExpr":"datum.value % 20 ? '' : datum.label","tickSize":{"condition":{"test":"datum.value % 20 == 0","value":-5},"value":-2.5}}}}},
{"data":{"name":"info"},"transform":[{"filter":"datum.ch==0"}],"resolve":{"scale":{"y":"independent"}},"layer":[
{"layer":[
{"mark":{"type":"rule","color":"#dc3a2e","strokeWidth":1.2},"encoding":{"x":{"datum":1000},"y":{"datum":0,"scale":{"domain":[0,1],"nice":false},"axis":null},"y2":{"datum":1}}},
{"mark":{"type":"text","style":"big"},"encoding":{"x":{"datum":2020},"y":{"datum":0.8,"scale":{"domain":[0,1],"nice":false},"axis":null},"text":{"field":"label"}}},
{"mark":{"type":"text","style":"big"},"encoding":{"x":{"datum":2020},"y":{"datum":0.75,"scale":{"domain":[0,1],"nice":false},"axis":null},"text":{"field":"gain"}}},
{"mark":{"type":"rect","fill":"white","stroke":"black","strokeWidth":0.8},"encoding":{"x":{"datum":2660},"x2":{"datum":3377},"y":{"datum":0.932,"scale":{"domain":[0,1],"nice":false},"axis":null},"y2":{"datum":0.775}}},
{"mark":{"type":"rule","color":"black","strokeWidth":0.5},"encoding":{"x":{"datum":2660},"x2":{"datum":3377},"y":{"datum":0.898,"scale":{"domain":[0,1],"nice":false},"axis":null}}},
{"mark":{"type":"text","style":"stt"},"encoding":{"x":{"datum":3018},"y":{"datum":0.915,"scale":{"domain":[0,1],"nice":false},"axis":null},"text":{"field":"h"}}},
{"mark":{"type":"text","style":"stl","text":"Entries"},"encoding":{"x":{"datum":2705},"y":{"datum":0.867,"scale":{"domain":[0,1],"nice":false},"axis":null}}},
{"mark":{"type":"text","style":"stl","text":"Mean"},"encoding":{"x":{"datum":2705},"y":{"datum":0.83,"scale":{"domain":[0,1],"nice":false},"axis":null}}},
{"mark":{"type":"text","style":"stl","text":"Std Dev"},"encoding":{"x":{"datum":2705},"y":{"datum":0.792,"scale":{"domain":[0,1],"nice":false},"axis":null}}},
{"mark":{"type":"text","style":"str"},"encoding":{"x":{"datum":3332},"y":{"datum":0.867,"scale":{"domain":[0,1],"nice":false},"axis":null},"text":{"field":"e"}}},
{"mark":{"type":"text","style":"str"},"encoding":{"x":{"datum":3332},"y":{"datum":0.83,"scale":{"domain":[0,1],"nice":false},"axis":null},"text":{"field":"m"}}},
{"mark":{"type":"text","style":"str"},"encoding":{"x":{"datum":3332},"y":{"datum":0.792,"scale":{"domain":[0,1],"nice":false},"axis":null},"text":{"field":"s"}}}
]},
{"mark":"point","encoding":{"x":{"field":"px","type":"quantitative","title":null,"scale":{"domain":[200,3480],"nice":false,"zero":false},"axis":{"orient":"top","offset":22.5,"domain":true,"domainColor":"#3d6d22","domainWidth":7,"domainCap":"square","ticks":false,"labels":false,"grid":false,"title":null}},"y":{"field":"py","type":"quantitative","scale":{"domain":[0,123.6],"nice":false},"axis":{"orient":"left","offset":28,"domain":true,"domainColor":"#3d6d22","domainWidth":12,"domainCap":"square","ticks":false,"labels":false,"grid":false,"title":null}}}}
]}]},
{"width":204,"height":198,"resolve":{"scale":{"y":"independent","x":"independent"}},"layer":[
{"data":{"name":"hist"},"transform":[{"filter":"datum.ch==1"}],"mark":{"type":"line","interpolate":"step-after","clip":true},"encoding":{"x":{"field":"adc","type":"quantitative","scale":{"domain":[200,3480],"nice":false},"title":null,"axis":{"tickSize":{"condition":{"test":"datum.value % 500 == 0","value":-5},"value":-2.5}}},"y":{"field":"n","type":"quantitative","scale":{"domain":[0,54],"nice":false},"title":null,"axis":{"tickSize":{"condition":{"test":"datum.value % 10 == 0","value":-5},"value":-2.5}}}}},
{"data":{"name":"info"},"transform":[{"filter":"datum.ch==1"}],"resolve":{"scale":{"y":"independent"}},"layer":[
{"layer":[
{"mark":{"type":"rule","color":"#dc3a2e","strokeWidth":1.2},"encoding":{"x":{"datum":1000},"y":{"datum":0,"scale":{"domain":[0,1],"nice":false},"axis":null},"y2":{"datum":1}}},
{"mark":{"type":"text","style":"big"},"encoding":{"x":{"datum":2140},"y":{"datum":0.8,"scale":{"domain":[0,1],"nice":false},"axis":null},"text":{"field":"label"}}},
{"mark":{"type":"text","style":"big"},"encoding":{"x":{"datum":2140},"y":{"datum":0.75,"scale":{"domain":[0,1],"nice":false},"axis":null},"text":{"field":"gain"}}},
{"mark":{"type":"rect","fill":"white","stroke":"black","strokeWidth":0.8},"encoding":{"x":{"datum":2750},"x2":{"datum":3400},"y":{"datum":0.932,"scale":{"domain":[0,1],"nice":false},"axis":null},"y2":{"datum":0.775}}},
{"mark":{"type":"rule","color":"black","strokeWidth":0.5},"encoding":{"x":{"datum":2750},"x2":{"datum":3400},"y":{"datum":0.898,"scale":{"domain":[0,1],"nice":false},"axis":null}}},
{"mark":{"type":"text","style":"stt"},"encoding":{"x":{"datum":3075},"y":{"datum":0.915,"scale":{"domain":[0,1],"nice":false},"axis":null},"text":{"field":"h"}}},
{"mark":{"type":"text","style":"stl","text":"Entries"},"encoding":{"x":{"datum":2795},"y":{"datum":0.867,"scale":{"domain":[0,1],"nice":false},"axis":null}}},
{"mark":{"type":"text","style":"stl","text":"Mean"},"encoding":{"x":{"datum":2795},"y":{"datum":0.83,"scale":{"domain":[0,1],"nice":false},"axis":null}}},
{"mark":{"type":"text","style":"stl","text":"Std Dev"},"encoding":{"x":{"datum":2795},"y":{"datum":0.792,"scale":{"domain":[0,1],"nice":false},"axis":null}}},
{"mark":{"type":"text","style":"str"},"encoding":{"x":{"datum":3355},"y":{"datum":0.867,"scale":{"domain":[0,1],"nice":false},"axis":null},"text":{"field":"e"}}},
{"mark":{"type":"text","style":"str"},"encoding":{"x":{"datum":3355},"y":{"datum":0.83,"scale":{"domain":[0,1],"nice":false},"axis":null},"text":{"field":"m"}}},
{"mark":{"type":"text","style":"str"},"encoding":{"x":{"datum":3355},"y":{"datum":0.792,"scale":{"domain":[0,1],"nice":false},"axis":null},"text":{"field":"s"}}}
]},
{"mark":"point","encoding":{"x":{"field":"px","type":"quantitative","title":null,"scale":{"domain":[200,3480],"nice":false,"zero":false},"axis":{"orient":"top","offset":22.5,"domain":true,"domainColor":"#3d6d22","domainWidth":7,"domainCap":"square","ticks":false,"labels":false,"grid":false,"title":null}},"y":{"field":"py","type":"quantitative","scale":{"domain":[0,54],"nice":false},"axis":null}}}
]}]},
{"width":204,"height":198,"resolve":{"scale":{"y":"independent","x":"independent"}},"layer":[
{"data":{"name":"hist"},"transform":[{"filter":"datum.ch==2"}],"mark":{"type":"line","interpolate":"step-after","clip":true},"encoding":{"x":{"field":"adc","type":"quantitative","scale":{"domain":[200,3480],"nice":false},"title":null,"axis":{"tickSize":{"condition":{"test":"datum.value % 500 == 0","value":-5},"value":-2.5}}},"y":{"field":"n","type":"quantitative","scale":{"domain":[0,124],"nice":false},"title":null,"axis":{"tickSize":{"condition":{"test":"datum.value % 10 == 0","value":-5},"value":-2.5}}}}},
{"data":{"name":"info"},"transform":[{"filter":"datum.ch==2"}],"resolve":{"scale":{"y":"independent"}},"layer":[
{"layer":[
{"mark":{"type":"rule","color":"#dc3a2e","strokeWidth":1.2},"encoding":{"x":{"datum":1000},"y":{"datum":0,"scale":{"domain":[0,1],"nice":false},"axis":null},"y2":{"datum":1}}},
{"mark":{"type":"text","style":"big"},"encoding":{"x":{"datum":2140},"y":{"datum":0.8,"scale":{"domain":[0,1],"nice":false},"axis":null},"text":{"field":"label"}}},
{"mark":{"type":"text","style":"big"},"encoding":{"x":{"datum":2140},"y":{"datum":0.75,"scale":{"domain":[0,1],"nice":false},"axis":null},"text":{"field":"gain"}}},
{"mark":{"type":"rect","fill":"white","stroke":"black","strokeWidth":0.8},"encoding":{"x":{"datum":2750},"x2":{"datum":3400},"y":{"datum":0.932,"scale":{"domain":[0,1],"nice":false},"axis":null},"y2":{"datum":0.775}}},
{"mark":{"type":"rule","color":"black","strokeWidth":0.5},"encoding":{"x":{"datum":2750},"x2":{"datum":3400},"y":{"datum":0.898,"scale":{"domain":[0,1],"nice":false},"axis":null}}},
{"mark":{"type":"text","style":"stt"},"encoding":{"x":{"datum":3075},"y":{"datum":0.915,"scale":{"domain":[0,1],"nice":false},"axis":null},"text":{"field":"h"}}},
{"mark":{"type":"text","style":"stl","text":"Entries"},"encoding":{"x":{"datum":2795},"y":{"datum":0.867,"scale":{"domain":[0,1],"nice":false},"axis":null}}},
{"mark":{"type":"text","style":"stl","text":"Mean"},"encoding":{"x":{"datum":2795},"y":{"datum":0.83,"scale":{"domain":[0,1],"nice":false},"axis":null}}},
{"mark":{"type":"text","style":"stl","text":"Std Dev"},"encoding":{"x":{"datum":2795},"y":{"datum":0.792,"scale":{"domain":[0,1],"nice":false},"axis":null}}},
{"mark":{"type":"text","style":"str"},"encoding":{"x":{"datum":3355},"y":{"datum":0.867,"scale":{"domain":[0,1],"nice":false},"axis":null},"text":{"field":"e"}}},
{"mark":{"type":"text","style":"str"},"encoding":{"x":{"datum":3355},"y":{"datum":0.83,"scale":{"domain":[0,1],"nice":false},"axis":null},"text":{"field":"m"}}},
{"mark":{"type":"text","style":"str"},"encoding":{"x":{"datum":3355},"y":{"datum":0.792,"scale":{"domain":[0,1],"nice":false},"axis":null},"text":{"field":"s"}}}
]},
{"mark":"point","encoding":{"x":{"field":"px","type":"quantitative","title":null,"scale":{"domain":[200,3480],"nice":false,"zero":false},"axis":{"orient":"top","offset":22.5,"domain":true,"domainColor":"#3d6d22","domainWidth":7,"domainCap":"square","ticks":false,"labels":false,"grid":false,"title":null}},"y":{"field":"py","type":"quantitative","scale":{"domain":[0,124],"nice":false},"axis":null}}}
]}]},
{"width":204,"height":198,"resolve":{"scale":{"y":"independent","x":"independent"}},"layer":[
{"data":{"name":"hist"},"transform":[{"filter":"datum.ch==3"}],"mark":{"type":"line","interpolate":"step-after","clip":true},"encoding":{"x":{"field":"adc","type":"quantitative","scale":{"domain":[200,3480],"nice":false},"title":null,"axis":{"tickSize":{"condition":{"test":"datum.value % 500 == 0","value":-5},"value":-2.5}}},"y":{"field":"n","type":"quantitative","scale":{"domain":[0,68],"nice":false},"title":null,"axis":{"tickSize":{"condition":{"test":"datum.value % 10 == 0","value":-5},"value":-2.5}}}}},
{"data":{"name":"info"},"transform":[{"filter":"datum.ch==3"}],"resolve":{"scale":{"y":"independent"}},"layer":[
{"layer":[
{"mark":{"type":"rule","color":"#dc3a2e","strokeWidth":1.2},"encoding":{"x":{"datum":1000},"y":{"datum":0,"scale":{"domain":[0,1],"nice":false},"axis":null},"y2":{"datum":1}}},
{"mark":{"type":"text","style":"big"},"encoding":{"x":{"datum":2140},"y":{"datum":0.8,"scale":{"domain":[0,1],"nice":false},"axis":null},"text":{"field":"label"}}},
{"mark":{"type":"text","style":"big"},"encoding":{"x":{"datum":2140},"y":{"datum":0.75,"scale":{"domain":[0,1],"nice":false},"axis":null},"text":{"field":"gain"}}},
{"mark":{"type":"rect","fill":"white","stroke":"black","strokeWidth":0.8},"encoding":{"x":{"datum":2750},"x2":{"datum":3400},"y":{"datum":0.932,"scale":{"domain":[0,1],"nice":false},"axis":null},"y2":{"datum":0.775}}},
{"mark":{"type":"rule","color":"black","strokeWidth":0.5},"encoding":{"x":{"datum":2750},"x2":{"datum":3400},"y":{"datum":0.898,"scale":{"domain":[0,1],"nice":false},"axis":null}}},
{"mark":{"type":"text","style":"stt"},"encoding":{"x":{"datum":3075},"y":{"datum":0.915,"scale":{"domain":[0,1],"nice":false},"axis":null},"text":{"field":"h"}}},
{"mark":{"type":"text","style":"stl","text":"Entries"},"encoding":{"x":{"datum":2795},"y":{"datum":0.867,"scale":{"domain":[0,1],"nice":false},"axis":null}}},
{"mark":{"type":"text","style":"stl","text":"Mean"},"encoding":{"x":{"datum":2795},"y":{"datum":0.83,"scale":{"domain":[0,1],"nice":false},"axis":null}}},
{"mark":{"type":"text","style":"stl","text":"Std Dev"},"encoding":{"x":{"datum":2795},"y":{"datum":0.792,"scale":{"domain":[0,1],"nice":false},"axis":null}}},
{"mark":{"type":"text","style":"str"},"encoding":{"x":{"datum":3355},"y":{"datum":0.867,"scale":{"domain":[0,1],"nice":false},"axis":null},"text":{"field":"e"}}},
{"mark":{"type":"text","style":"str"},"encoding":{"x":{"datum":3355},"y":{"datum":0.83,"scale":{"domain":[0,1],"nice":false},"axis":null},"text":{"field":"m"}}},
{"mark":{"type":"text","style":"str"},"encoding":{"x":{"datum":3355},"y":{"datum":0.792,"scale":{"domain":[0,1],"nice":false},"axis":null},"text":{"field":"s"}}}
]},
{"mark":"point","encoding":{"x":{"field":"px","type":"quantitative","title":null,"scale":{"domain":[200,3480],"nice":false,"zero":false},"axis":{"orient":"top","offset":22.5,"domain":true,"domainColor":"#3d6d22","domainWidth":7,"domainCap":"square","ticks":false,"labels":false,"grid":false,"title":null}},"y":{"field":"py","type":"quantitative","scale":{"domain":[0,68],"nice":false},"axis":null}}}
]}]},
{"width":204,"height":198,"resolve":{"scale":{"y":"independent"}},"layer":[
{"data":{"name":"hist"},"transform":[{"filter":"datum.ch==4"}],"mark":{"type":"line","interpolate":"step-after","clip":true},"encoding":{"x":{"field":"adc","type":"quantitative","scale":{"domain":[200,3480],"nice":false},"title":null,"axis":{"tickSize":{"condition":{"test":"datum.value % 500 == 0","value":-5},"value":-2.5}}},"y":{"field":"n","type":"quantitative","scale":{"domain":[0,98],"nice":false},"title":null,"axis":{"labels":true,"tickCount":20,"labelExpr":"datum.value % 10 ? '' : datum.label","tickSize":{"condition":{"test":"datum.value % 10 == 0","value":-5},"value":-2.5}}}}},
{"data":{"name":"info"},"transform":[{"filter":"datum.ch==4"}],"resolve":{"scale":{"y":"independent"}},"layer":[
{"layer":[
{"mark":{"type":"rule","color":"#dc3a2e","strokeWidth":1.2},"encoding":{"x":{"datum":1000},"y":{"datum":0,"scale":{"domain":[0,1],"nice":false},"axis":null},"y2":{"datum":1}}},
{"mark":{"type":"text","style":"big"},"encoding":{"x":{"datum":2020},"y":{"datum":0.8,"scale":{"domain":[0,1],"nice":false},"axis":null},"text":{"field":"label"}}},
{"mark":{"type":"text","style":"big"},"encoding":{"x":{"datum":2020},"y":{"datum":0.75,"scale":{"domain":[0,1],"nice":false},"axis":null},"text":{"field":"gain"}}},
{"mark":{"type":"rect","fill":"white","stroke":"black","strokeWidth":0.8},"encoding":{"x":{"datum":2660},"x2":{"datum":3377},"y":{"datum":0.932,"scale":{"domain":[0,1],"nice":false},"axis":null},"y2":{"datum":0.775}}},
{"mark":{"type":"rule","color":"black","strokeWidth":0.5},"encoding":{"x":{"datum":2660},"x2":{"datum":3377},"y":{"datum":0.898,"scale":{"domain":[0,1],"nice":false},"axis":null}}},
{"mark":{"type":"text","style":"stt"},"encoding":{"x":{"datum":3018},"y":{"datum":0.915,"scale":{"domain":[0,1],"nice":false},"axis":null},"text":{"field":"h"}}},
{"mark":{"type":"text","style":"stl","text":"Entries"},"encoding":{"x":{"datum":2705},"y":{"datum":0.867,"scale":{"domain":[0,1],"nice":false},"axis":null}}},
{"mark":{"type":"text","style":"stl","text":"Mean"},"encoding":{"x":{"datum":2705},"y":{"datum":0.83,"scale":{"domain":[0,1],"nice":false},"axis":null}}},
{"mark":{"type":"text","style":"stl","text":"Std Dev"},"encoding":{"x":{"datum":2705},"y":{"datum":0.792,"scale":{"domain":[0,1],"nice":false},"axis":null}}},
{"mark":{"type":"text","style":"str"},"encoding":{"x":{"datum":3332},"y":{"datum":0.867,"scale":{"domain":[0,1],"nice":false},"axis":null},"text":{"field":"e"}}},
{"mark":{"type":"text","style":"str"},"encoding":{"x":{"datum":3332},"y":{"datum":0.83,"scale":{"domain":[0,1],"nice":false},"axis":null},"text":{"field":"m"}}},
{"mark":{"type":"text","style":"str"},"encoding":{"x":{"datum":3332},"y":{"datum":0.792,"scale":{"domain":[0,1],"nice":false},"axis":null},"text":{"field":"s"}}}
]},
{"mark":"point","encoding":{"x":{"field":"px","type":"quantitative","title":null},"y":{"field":"py","type":"quantitative","scale":{"domain":[0,98],"nice":false},"axis":{"orient":"left","offset":28,"domain":true,"domainColor":"#3d6d22","domainWidth":12,"domainCap":"square","ticks":false,"labels":false,"grid":false,"title":null}}}}
]}]},
{"width":204,"height":198,"resolve":{"scale":{"y":"independent"}},"layer":[
{"data":{"name":"hist"},"transform":[{"filter":"datum.ch==5"}],"mark":{"type":"line","interpolate":"step-after","clip":true},"encoding":{"x":{"field":"adc","type":"quantitative","scale":{"domain":[200,3480],"nice":false},"title":null,"axis":{"tickSize":{"condition":{"test":"datum.value % 500 == 0","value":-5},"value":-2.5}}},"y":{"field":"n","type":"quantitative","scale":{"domain":[0,29],"nice":false},"title":null,"axis":{"tickSize":{"condition":{"test":"datum.value % 10 == 0","value":-5},"value":-2.5}}}}},
{"data":{"name":"info"},"transform":[{"filter":"datum.ch==5"}],"resolve":{"scale":{"y":"independent"}},"layer":[
{"layer":[
{"mark":{"type":"rule","color":"#dc3a2e","strokeWidth":1.2},"encoding":{"x":{"datum":1000},"y":{"datum":0,"scale":{"domain":[0,1],"nice":false},"axis":null},"y2":{"datum":1}}},
{"mark":{"type":"text","style":"big"},"encoding":{"x":{"datum":2140},"y":{"datum":0.8,"scale":{"domain":[0,1],"nice":false},"axis":null},"text":{"field":"label"}}},
{"mark":{"type":"text","style":"big"},"encoding":{"x":{"datum":2140},"y":{"datum":0.75,"scale":{"domain":[0,1],"nice":false},"axis":null},"text":{"field":"gain"}}},
{"mark":{"type":"rect","fill":"white","stroke":"black","strokeWidth":0.8},"encoding":{"x":{"datum":2750},"x2":{"datum":3400},"y":{"datum":0.932,"scale":{"domain":[0,1],"nice":false},"axis":null},"y2":{"datum":0.775}}},
{"mark":{"type":"rule","color":"black","strokeWidth":0.5},"encoding":{"x":{"datum":2750},"x2":{"datum":3400},"y":{"datum":0.898,"scale":{"domain":[0,1],"nice":false},"axis":null}}},
{"mark":{"type":"text","style":"stt"},"encoding":{"x":{"datum":3075},"y":{"datum":0.915,"scale":{"domain":[0,1],"nice":false},"axis":null},"text":{"field":"h"}}},
{"mark":{"type":"text","style":"stl","text":"Entries"},"encoding":{"x":{"datum":2795},"y":{"datum":0.867,"scale":{"domain":[0,1],"nice":false},"axis":null}}},
{"mark":{"type":"text","style":"stl","text":"Mean"},"encoding":{"x":{"datum":2795},"y":{"datum":0.83,"scale":{"domain":[0,1],"nice":false},"axis":null}}},
{"mark":{"type":"text","style":"stl","text":"Std Dev"},"encoding":{"x":{"datum":2795},"y":{"datum":0.792,"scale":{"domain":[0,1],"nice":false},"axis":null}}},
{"mark":{"type":"text","style":"str"},"encoding":{"x":{"datum":3355},"y":{"datum":0.867,"scale":{"domain":[0,1],"nice":false},"axis":null},"text":{"field":"e"}}},
{"mark":{"type":"text","style":"str"},"encoding":{"x":{"datum":3355},"y":{"datum":0.83,"scale":{"domain":[0,1],"nice":false},"axis":null},"text":{"field":"m"}}},
{"mark":{"type":"text","style":"str"},"encoding":{"x":{"datum":3355},"y":{"datum":0.792,"scale":{"domain":[0,1],"nice":false},"axis":null},"text":{"field":"s"}}}
]},
{"mark":"point","encoding":{"x":{"field":"px","type":"quantitative","title":null},"y":{"field":"py","type":"quantitative","scale":{"domain":[0,29],"nice":false},"axis":null}}}
]}]},
{"width":204,"height":198,"resolve":{"scale":{"y":"independent"}},"layer":[
{"data":{"name":"hist"},"transform":[{"filter":"datum.ch==6"}],"mark":{"type":"line","interpolate":"step-after","clip":true},"encoding":{"x":{"field":"adc","type":"quantitative","scale":{"domain":[200,3480],"nice":false},"title":null,"axis":{"tickSize":{"condition":{"test":"datum.value % 500 == 0","value":-5},"value":-2.5}}},"y":{"field":"n","type":"quantitative","scale":{"domain":[0,124],"nice":false},"title":null,"axis":{"tickSize":{"condition":{"test":"datum.value % 10 == 0","value":-5},"value":-2.5}}}}},
{"data":{"name":"info"},"transform":[{"filter":"datum.ch==6"}],"resolve":{"scale":{"y":"independent"}},"layer":[
{"layer":[
{"mark":{"type":"rule","color":"#dc3a2e","strokeWidth":1.2},"encoding":{"x":{"datum":1000},"y":{"datum":0,"scale":{"domain":[0,1],"nice":false},"axis":null},"y2":{"datum":1}}},
{"mark":{"type":"text","style":"big"},"encoding":{"x":{"datum":2140},"y":{"datum":0.8,"scale":{"domain":[0,1],"nice":false},"axis":null},"text":{"field":"label"}}},
{"mark":{"type":"text","style":"big"},"encoding":{"x":{"datum":2140},"y":{"datum":0.75,"scale":{"domain":[0,1],"nice":false},"axis":null},"text":{"field":"gain"}}},
{"mark":{"type":"rect","fill":"white","stroke":"black","strokeWidth":0.8},"encoding":{"x":{"datum":2750},"x2":{"datum":3400},"y":{"datum":0.932,"scale":{"domain":[0,1],"nice":false},"axis":null},"y2":{"datum":0.775}}},
{"mark":{"type":"rule","color":"black","strokeWidth":0.5},"encoding":{"x":{"datum":2750},"x2":{"datum":3400},"y":{"datum":0.898,"scale":{"domain":[0,1],"nice":false},"axis":null}}},
{"mark":{"type":"text","style":"stt"},"encoding":{"x":{"datum":3075},"y":{"datum":0.915,"scale":{"domain":[0,1],"nice":false},"axis":null},"text":{"field":"h"}}},
{"mark":{"type":"text","style":"stl","text":"Entries"},"encoding":{"x":{"datum":2795},"y":{"datum":0.867,"scale":{"domain":[0,1],"nice":false},"axis":null}}},
{"mark":{"type":"text","style":"stl","text":"Mean"},"encoding":{"x":{"datum":2795},"y":{"datum":0.83,"scale":{"domain":[0,1],"nice":false},"axis":null}}},
{"mark":{"type":"text","style":"stl","text":"Std Dev"},"encoding":{"x":{"datum":2795},"y":{"datum":0.792,"scale":{"domain":[0,1],"nice":false},"axis":null}}},
{"mark":{"type":"text","style":"str"},"encoding":{"x":{"datum":3355},"y":{"datum":0.867,"scale":{"domain":[0,1],"nice":false},"axis":null},"text":{"field":"e"}}},
{"mark":{"type":"text","style":"str"},"encoding":{"x":{"datum":3355},"y":{"datum":0.83,"scale":{"domain":[0,1],"nice":false},"axis":null},"text":{"field":"m"}}},
{"mark":{"type":"text","style":"str"},"encoding":{"x":{"datum":3355},"y":{"datum":0.792,"scale":{"domain":[0,1],"nice":false},"axis":null},"text":{"field":"s"}}}
]},
{"mark":"point","encoding":{"x":{"field":"px","type":"quantitative","title":null},"y":{"field":"py","type":"quantitative","scale":{"domain":[0,124],"nice":false},"axis":null}}}
]}]},
{"width":204,"height":198,"resolve":{"scale":{"y":"independent"}},"layer":[
{"data":{"name":"hist"},"transform":[{"filter":"datum.ch==7"}],"mark":{"type":"line","interpolate":"step-after","clip":true},"encoding":{"x":{"field":"adc","type":"quantitative","scale":{"domain":[200,3480],"nice":false},"title":null,"axis":{"tickSize":{"condition":{"test":"datum.value % 500 == 0","value":-5},"value":-2.5}}},"y":{"field":"n","type":"quantitative","scale":{"domain":[0,23],"nice":false},"title":null,"axis":{"tickSize":{"condition":{"test":"datum.value % 10 == 0","value":-5},"value":-2.5}}}}},
{"data":{"name":"info"},"transform":[{"filter":"datum.ch==7"}],"resolve":{"scale":{"y":"independent"}},"layer":[
{"layer":[
{"mark":{"type":"rule","color":"#dc3a2e","strokeWidth":1.2},"encoding":{"x":{"datum":1000},"y":{"datum":0,"scale":{"domain":[0,1],"nice":false},"axis":null},"y2":{"datum":1}}},
{"mark":{"type":"text","style":"big"},"encoding":{"x":{"datum":2140},"y":{"datum":0.8,"scale":{"domain":[0,1],"nice":false},"axis":null},"text":{"field":"label"}}},
{"mark":{"type":"text","style":"big"},"encoding":{"x":{"datum":2140},"y":{"datum":0.75,"scale":{"domain":[0,1],"nice":false},"axis":null},"text":{"field":"gain"}}},
{"mark":{"type":"rect","fill":"white","stroke":"black","strokeWidth":0.8},"encoding":{"x":{"datum":2750},"x2":{"datum":3400},"y":{"datum":0.932,"scale":{"domain":[0,1],"nice":false},"axis":null},"y2":{"datum":0.775}}},
{"mark":{"type":"rule","color":"black","strokeWidth":0.5},"encoding":{"x":{"datum":2750},"x2":{"datum":3400},"y":{"datum":0.898,"scale":{"domain":[0,1],"nice":false},"axis":null}}},
{"mark":{"type":"text","style":"stt"},"encoding":{"x":{"datum":3075},"y":{"datum":0.915,"scale":{"domain":[0,1],"nice":false},"axis":null},"text":{"field":"h"}}},
{"mark":{"type":"text","style":"stl","text":"Entries"},"encoding":{"x":{"datum":2795},"y":{"datum":0.867,"scale":{"domain":[0,1],"nice":false},"axis":null}}},
{"mark":{"type":"text","style":"stl","text":"Mean"},"encoding":{"x":{"datum":2795},"y":{"datum":0.83,"scale":{"domain":[0,1],"nice":false},"axis":null}}},
{"mark":{"type":"text","style":"stl","text":"Std Dev"},"encoding":{"x":{"datum":2795},"y":{"datum":0.792,"scale":{"domain":[0,1],"nice":false},"axis":null}}},
{"mark":{"type":"text","style":"str"},"encoding":{"x":{"datum":3355},"y":{"datum":0.867,"scale":{"domain":[0,1],"nice":false},"axis":null},"text":{"field":"e"}}},
{"mark":{"type":"text","style":"str"},"encoding":{"x":{"datum":3355},"y":{"datum":0.83,"scale":{"domain":[0,1],"nice":false},"axis":null},"text":{"field":"m"}}},
{"mark":{"type":"text","style":"str"},"encoding":{"x":{"datum":3355},"y":{"datum":0.792,"scale":{"domain":[0,1],"nice":false},"axis":null},"text":{"field":"s"}}}
]},
{"mark":"point","encoding":{"x":{"field":"px","type":"quantitative","title":null},"y":{"field":"py","type":"quantitative","scale":{"domain":[0,23],"nice":false},"axis":null}}}
]}]},
{"width":204,"height":198,"resolve":{"scale":{"y":"independent"}},"layer":[
{"data":{"name":"hist"},"transform":[{"filter":"datum.ch==8"}],"mark":{"type":"line","interpolate":"step-after","clip":true},"encoding":{"x":{"field":"adc","type":"quantitative","scale":{"domain":[200,3480],"nice":false},"title":null,"axis":{"tickSize":{"condition":{"test":"datum.value % 500 == 0","value":-5},"value":-2.5}}},"y":{"field":"n","type":"quantitative","scale":{"domain":[0,48.1],"nice":false},"title":null,"axis":{"labels":true,"tickCount":48,"labelExpr":"datum.value % 5 ? '' : datum.label","tickSize":{"condition":{"test":"datum.value % 5 == 0","value":-5},"value":-2.5}}}}},
{"data":{"name":"info"},"transform":[{"filter":"datum.ch==8"}],"resolve":{"scale":{"y":"independent"}},"layer":[
{"layer":[
{"mark":{"type":"rule","color":"#dc3a2e","strokeWidth":1.2},"encoding":{"x":{"datum":1000},"y":{"datum":0,"scale":{"domain":[0,1],"nice":false},"axis":null},"y2":{"datum":1}}},
{"mark":{"type":"text","style":"big"},"encoding":{"x":{"datum":2020},"y":{"datum":0.8,"scale":{"domain":[0,1],"nice":false},"axis":null},"text":{"field":"label"}}},
{"mark":{"type":"text","style":"big"},"encoding":{"x":{"datum":2020},"y":{"datum":0.75,"scale":{"domain":[0,1],"nice":false},"axis":null},"text":{"field":"gain"}}},
{"mark":{"type":"rect","fill":"white","stroke":"black","strokeWidth":0.8},"encoding":{"x":{"datum":2660},"x2":{"datum":3377},"y":{"datum":0.932,"scale":{"domain":[0,1],"nice":false},"axis":null},"y2":{"datum":0.775}}},
{"mark":{"type":"rule","color":"black","strokeWidth":0.5},"encoding":{"x":{"datum":2660},"x2":{"datum":3377},"y":{"datum":0.898,"scale":{"domain":[0,1],"nice":false},"axis":null}}},
{"mark":{"type":"text","style":"stt"},"encoding":{"x":{"datum":3018},"y":{"datum":0.915,"scale":{"domain":[0,1],"nice":false},"axis":null},"text":{"field":"h"}}},
{"mark":{"type":"text","style":"stl","text":"Entries"},"encoding":{"x":{"datum":2705},"y":{"datum":0.867,"scale":{"domain":[0,1],"nice":false},"axis":null}}},
{"mark":{"type":"text","style":"stl","text":"Mean"},"encoding":{"x":{"datum":2705},"y":{"datum":0.83,"scale":{"domain":[0,1],"nice":false},"axis":null}}},
{"mark":{"type":"text","style":"stl","text":"Std Dev"},"encoding":{"x":{"datum":2705},"y":{"datum":0.792,"scale":{"domain":[0,1],"nice":false},"axis":null}}},
{"mark":{"type":"text","style":"str"},"encoding":{"x":{"datum":3332},"y":{"datum":0.867,"scale":{"domain":[0,1],"nice":false},"axis":null},"text":{"field":"e"}}},
{"mark":{"type":"text","style":"str"},"encoding":{"x":{"datum":3332},"y":{"datum":0.83,"scale":{"domain":[0,1],"nice":false},"axis":null},"text":{"field":"m"}}},
{"mark":{"type":"text","style":"str"},"encoding":{"x":{"datum":3332},"y":{"datum":0.792,"scale":{"domain":[0,1],"nice":false},"axis":null},"text":{"field":"s"}}}
]},
{"mark":"point","encoding":{"x":{"field":"px","type":"quantitative","title":null},"y":{"field":"py","type":"quantitative","scale":{"domain":[0,48.1],"nice":false},"axis":{"orient":"left","offset":28,"domain":true,"domainColor":"#3d6d22","domainWidth":12,"domainCap":"square","ticks":false,"labels":false,"grid":false,"title":null}}}}
]}]},
{"width":204,"height":198,"resolve":{"scale":{"y":"independent"}},"layer":[
{"data":{"name":"hist"},"transform":[{"filter":"datum.ch==9"}],"mark":{"type":"line","interpolate":"step-after","clip":true},"encoding":{"x":{"field":"adc","type":"quantitative","scale":{"domain":[200,3480],"nice":false},"title":null,"axis":{"tickSize":{"condition":{"test":"datum.value % 500 == 0","value":-5},"value":-2.5}}},"y":{"field":"n","type":"quantitative","scale":{"domain":[0,83],"nice":false},"title":null,"axis":{"tickSize":{"condition":{"test":"datum.value % 10 == 0","value":-5},"value":-2.5}}}}},
{"data":{"name":"info"},"transform":[{"filter":"datum.ch==9"}],"resolve":{"scale":{"y":"independent"}},"layer":[
{"layer":[
{"mark":{"type":"rule","color":"#dc3a2e","strokeWidth":1.2},"encoding":{"x":{"datum":1000},"y":{"datum":0,"scale":{"domain":[0,1],"nice":false},"axis":null},"y2":{"datum":1}}},
{"mark":{"type":"text","style":"big"},"encoding":{"x":{"datum":2140},"y":{"datum":0.8,"scale":{"domain":[0,1],"nice":false},"axis":null},"text":{"field":"label"}}},
{"mark":{"type":"text","style":"big"},"encoding":{"x":{"datum":2140},"y":{"datum":0.75,"scale":{"domain":[0,1],"nice":false},"axis":null},"text":{"field":"gain"}}},
{"mark":{"type":"rect","fill":"white","stroke":"black","strokeWidth":0.8},"encoding":{"x":{"datum":2750},"x2":{"datum":3400},"y":{"datum":0.932,"scale":{"domain":[0,1],"nice":false},"axis":null},"y2":{"datum":0.775}}},
{"mark":{"type":"rule","color":"black","strokeWidth":0.5},"encoding":{"x":{"datum":2750},"x2":{"datum":3400},"y":{"datum":0.898,"scale":{"domain":[0,1],"nice":false},"axis":null}}},
{"mark":{"type":"text","style":"stt"},"encoding":{"x":{"datum":3075},"y":{"datum":0.915,"scale":{"domain":[0,1],"nice":false},"axis":null},"text":{"field":"h"}}},
{"mark":{"type":"text","style":"stl","text":"Entries"},"encoding":{"x":{"datum":2795},"y":{"datum":0.867,"scale":{"domain":[0,1],"nice":false},"axis":null}}},
{"mark":{"type":"text","style":"stl","text":"Mean"},"encoding":{"x":{"datum":2795},"y":{"datum":0.83,"scale":{"domain":[0,1],"nice":false},"axis":null}}},
{"mark":{"type":"text","style":"stl","text":"Std Dev"},"encoding":{"x":{"datum":2795},"y":{"datum":0.792,"scale":{"domain":[0,1],"nice":false},"axis":null}}},
{"mark":{"type":"text","style":"str"},"encoding":{"x":{"datum":3355},"y":{"datum":0.867,"scale":{"domain":[0,1],"nice":false},"axis":null},"text":{"field":"e"}}},
{"mark":{"type":"text","style":"str"},"encoding":{"x":{"datum":3355},"y":{"datum":0.83,"scale":{"domain":[0,1],"nice":false},"axis":null},"text":{"field":"m"}}},
{"mark":{"type":"text","style":"str"},"encoding":{"x":{"datum":3355},"y":{"datum":0.792,"scale":{"domain":[0,1],"nice":false},"axis":null},"text":{"field":"s"}}}
]},
{"mark":"point","encoding":{"x":{"field":"px","type":"quantitative","title":null},"y":{"field":"py","type":"quantitative","scale":{"domain":[0,83],"nice":false},"axis":null}}}
]}]},
{"width":204,"height":198,"resolve":{"scale":{"y":"independent"}},"layer":[
{"data":{"name":"hist"},"transform":[{"filter":"datum.ch==10"}],"mark":{"type":"line","interpolate":"step-after","clip":true},"encoding":{"x":{"field":"adc","type":"quantitative","scale":{"domain":[200,3480],"nice":false},"title":null,"axis":{"tickSize":{"condition":{"test":"datum.value % 500 == 0","value":-5},"value":-2.5}}},"y":{"field":"n","type":"quantitative","scale":{"domain":[0,92],"nice":false},"title":null,"axis":{"tickSize":{"condition":{"test":"datum.value % 10 == 0","value":-5},"value":-2.5}}}}},
{"data":{"name":"info"},"transform":[{"filter":"datum.ch==10"}],"resolve":{"scale":{"y":"independent"}},"layer":[
{"layer":[
{"mark":{"type":"rule","color":"#dc3a2e","strokeWidth":1.2},"encoding":{"x":{"datum":1000},"y":{"datum":0,"scale":{"domain":[0,1],"nice":false},"axis":null},"y2":{"datum":1}}},
{"mark":{"type":"text","style":"big"},"encoding":{"x":{"datum":2140},"y":{"datum":0.8,"scale":{"domain":[0,1],"nice":false},"axis":null},"text":{"field":"label"}}},
{"mark":{"type":"text","style":"big"},"encoding":{"x":{"datum":2140},"y":{"datum":0.75,"scale":{"domain":[0,1],"nice":false},"axis":null},"text":{"field":"gain"}}},
{"mark":{"type":"rect","fill":"white","stroke":"black","strokeWidth":0.8},"encoding":{"x":{"datum":2750},"x2":{"datum":3400},"y":{"datum":0.932,"scale":{"domain":[0,1],"nice":false},"axis":null},"y2":{"datum":0.775}}},
{"mark":{"type":"rule","color":"black","strokeWidth":0.5},"encoding":{"x":{"datum":2750},"x2":{"datum":3400},"y":{"datum":0.898,"scale":{"domain":[0,1],"nice":false},"axis":null}}},
{"mark":{"type":"text","style":"stt"},"encoding":{"x":{"datum":3075},"y":{"datum":0.915,"scale":{"domain":[0,1],"nice":false},"axis":null},"text":{"field":"h"}}},
{"mark":{"type":"text","style":"stl","text":"Entries"},"encoding":{"x":{"datum":2795},"y":{"datum":0.867,"scale":{"domain":[0,1],"nice":false},"axis":null}}},
{"mark":{"type":"text","style":"stl","text":"Mean"},"encoding":{"x":{"datum":2795},"y":{"datum":0.83,"scale":{"domain":[0,1],"nice":false},"axis":null}}},
{"mark":{"type":"text","style":"stl","text":"Std Dev"},"encoding":{"x":{"datum":2795},"y":{"datum":0.792,"scale":{"domain":[0,1],"nice":false},"axis":null}}},
{"mark":{"type":"text","style":"str"},"encoding":{"x":{"datum":3355},"y":{"datum":0.867,"scale":{"domain":[0,1],"nice":false},"axis":null},"text":{"field":"e"}}},
{"mark":{"type":"text","style":"str"},"encoding":{"x":{"datum":3355},"y":{"datum":0.83,"scale":{"domain":[0,1],"nice":false},"axis":null},"text":{"field":"m"}}},
{"mark":{"type":"text","style":"str"},"encoding":{"x":{"datum":3355},"y":{"datum":0.792,"scale":{"domain":[0,1],"nice":false},"axis":null},"text":{"field":"s"}}}
]},
{"mark":"point","encoding":{"x":{"field":"px","type":"quantitative","title":null},"y":{"field":"py","type":"quantitative","scale":{"domain":[0,92],"nice":false},"axis":null}}}
]}]},
{"width":204,"height":198,"resolve":{"scale":{"y":"independent"}},"layer":[
{"data":{"name":"hist"},"transform":[{"filter":"datum.ch==11"}],"mark":{"type":"line","interpolate":"step-after","clip":true},"encoding":{"x":{"field":"adc","type":"quantitative","scale":{"domain":[200,3480],"nice":false},"title":null,"axis":{"tickSize":{"condition":{"test":"datum.value % 500 == 0","value":-5},"value":-2.5}}},"y":{"field":"n","type":"quantitative","scale":{"domain":[0,60],"nice":false},"title":null,"axis":{"tickSize":{"condition":{"test":"datum.value % 10 == 0","value":-5},"value":-2.5}}}}},
{"data":{"name":"info"},"transform":[{"filter":"datum.ch==11"}],"resolve":{"scale":{"y":"independent"}},"layer":[
{"layer":[
{"mark":{"type":"rule","color":"#dc3a2e","strokeWidth":1.2},"encoding":{"x":{"datum":1000},"y":{"datum":0,"scale":{"domain":[0,1],"nice":false},"axis":null},"y2":{"datum":1}}},
{"mark":{"type":"text","style":"big"},"encoding":{"x":{"datum":2140},"y":{"datum":0.8,"scale":{"domain":[0,1],"nice":false},"axis":null},"text":{"field":"label"}}},
{"mark":{"type":"text","style":"big"},"encoding":{"x":{"datum":2140},"y":{"datum":0.75,"scale":{"domain":[0,1],"nice":false},"axis":null},"text":{"field":"gain"}}},
{"mark":{"type":"rect","fill":"white","stroke":"black","strokeWidth":0.8},"encoding":{"x":{"datum":2750},"x2":{"datum":3400},"y":{"datum":0.932,"scale":{"domain":[0,1],"nice":false},"axis":null},"y2":{"datum":0.775}}},
{"mark":{"type":"rule","color":"black","strokeWidth":0.5},"encoding":{"x":{"datum":2750},"x2":{"datum":3400},"y":{"datum":0.898,"scale":{"domain":[0,1],"nice":false},"axis":null}}},
{"mark":{"type":"text","style":"stt"},"encoding":{"x":{"datum":3075},"y":{"datum":0.915,"scale":{"domain":[0,1],"nice":false},"axis":null},"text":{"field":"h"}}},
{"mark":{"type":"text","style":"stl","text":"Entries"},"encoding":{"x":{"datum":2795},"y":{"datum":0.867,"scale":{"domain":[0,1],"nice":false},"axis":null}}},
{"mark":{"type":"text","style":"stl","text":"Mean"},"encoding":{"x":{"datum":2795},"y":{"datum":0.83,"scale":{"domain":[0,1],"nice":false},"axis":null}}},
{"mark":{"type":"text","style":"stl","text":"Std Dev"},"encoding":{"x":{"datum":2795},"y":{"datum":0.792,"scale":{"domain":[0,1],"nice":false},"axis":null}}},
{"mark":{"type":"text","style":"str"},"encoding":{"x":{"datum":3355},"y":{"datum":0.867,"scale":{"domain":[0,1],"nice":false},"axis":null},"text":{"field":"e"}}},
{"mark":{"type":"text","style":"str"},"encoding":{"x":{"datum":3355},"y":{"datum":0.83,"scale":{"domain":[0,1],"nice":false},"axis":null},"text":{"field":"m"}}},
{"mark":{"type":"text","style":"str"},"encoding":{"x":{"datum":3355},"y":{"datum":0.792,"scale":{"domain":[0,1],"nice":false},"axis":null},"text":{"field":"s"}}}
]},
{"mark":"point","encoding":{"x":{"field":"px","type":"quantitative","title":null},"y":{"field":"py","type":"quantitative","scale":{"domain":[0,60],"nice":false},"axis":null}}}
]}]},
{"width":204,"height":198,"resolve":{"scale":{"y":"independent"}},"layer":[
{"data":{"name":"hist"},"transform":[{"filter":"datum.ch==12"}],"mark":{"type":"line","interpolate":"step-after","clip":true},"encoding":{"x":{"field":"adc","type":"quantitative","scale":{"domain":[200,3480],"nice":false},"title":null,"axis":{"labels":true,"tickSize":{"condition":{"test":"datum.value % 500 == 0","value":-5},"value":-2.5}}},"y":{"field":"n","type":"quantitative","scale":{"domain":[0,103.7],"nice":false},"title":null,"axis":{"labels":true,"tickCount":21,"labelExpr":"datum.value % 20 ? '' : datum.label","tickSize":{"condition":{"test":"datum.value % 20 == 0","value":-5},"value":-2.5}}}}},
{"data":{"name":"info"},"transform":[{"filter":"datum.ch==12"}],"resolve":{"scale":{"y":"independent"}},"layer":[
{"layer":[
{"mark":{"type":"rule","color":"#dc3a2e","strokeWidth":1.2},"encoding":{"x":{"datum":1000},"y":{"datum":0,"scale":{"domain":[0,1],"nice":false},"axis":null},"y2":{"datum":1}}},
{"mark":{"type":"text","style":"big"},"encoding":{"x":{"datum":2020},"y":{"datum":0.8,"scale":{"domain":[0,1],"nice":false},"axis":null},"text":{"field":"label"}}},
{"mark":{"type":"text","style":"big"},"encoding":{"x":{"datum":2020},"y":{"datum":0.75,"scale":{"domain":[0,1],"nice":false},"axis":null},"text":{"field":"gain"}}},
{"mark":{"type":"rect","fill":"white","stroke":"black","strokeWidth":0.8},"encoding":{"x":{"datum":2660},"x2":{"datum":3377},"y":{"datum":0.932,"scale":{"domain":[0,1],"nice":false},"axis":null},"y2":{"datum":0.775}}},
{"mark":{"type":"rule","color":"black","strokeWidth":0.5},"encoding":{"x":{"datum":2660},"x2":{"datum":3377},"y":{"datum":0.898,"scale":{"domain":[0,1],"nice":false},"axis":null}}},
{"mark":{"type":"text","style":"stt"},"encoding":{"x":{"datum":3018},"y":{"datum":0.915,"scale":{"domain":[0,1],"nice":false},"axis":null},"text":{"field":"h"}}},
{"mark":{"type":"text","style":"stl","text":"Entries"},"encoding":{"x":{"datum":2705},"y":{"datum":0.867,"scale":{"domain":[0,1],"nice":false},"axis":null}}},
{"mark":{"type":"text","style":"stl","text":"Mean"},"encoding":{"x":{"datum":2705},"y":{"datum":0.83,"scale":{"domain":[0,1],"nice":false},"axis":null}}},
{"mark":{"type":"text","style":"stl","text":"Std Dev"},"encoding":{"x":{"datum":2705},"y":{"datum":0.792,"scale":{"domain":[0,1],"nice":false},"axis":null}}},
{"mark":{"type":"text","style":"str"},"encoding":{"x":{"datum":3332},"y":{"datum":0.867,"scale":{"domain":[0,1],"nice":false},"axis":null},"text":{"field":"e"}}},
{"mark":{"type":"text","style":"str"},"encoding":{"x":{"datum":3332},"y":{"datum":0.83,"scale":{"domain":[0,1],"nice":false},"axis":null},"text":{"field":"m"}}},
{"mark":{"type":"text","style":"str"},"encoding":{"x":{"datum":3332},"y":{"datum":0.792,"scale":{"domain":[0,1],"nice":false},"axis":null},"text":{"field":"s"}}}
]},
{"mark":"point","encoding":{"x":{"field":"px","type":"quantitative","title":null},"y":{"field":"py","type":"quantitative","scale":{"domain":[0,103.7],"nice":false},"axis":{"orient":"left","offset":28,"domain":true,"domainColor":"#3d6d22","domainWidth":12,"domainCap":"square","ticks":false,"labels":false,"grid":false,"title":null}}}}
]}]},
{"width":204,"height":198,"resolve":{"scale":{"y":"independent"}},"layer":[
{"data":{"name":"hist"},"transform":[{"filter":"datum.ch==13"}],"mark":{"type":"line","interpolate":"step-after","clip":true},"encoding":{"x":{"field":"adc","type":"quantitative","scale":{"domain":[200,3480],"nice":false},"title":null,"axis":{"labels":true,"tickSize":{"condition":{"test":"datum.value % 500 == 0","value":-5},"value":-2.5}}},"y":{"field":"n","type":"quantitative","scale":{"domain":[0,73],"nice":false},"title":null,"axis":{"tickSize":{"condition":{"test":"datum.value % 10 == 0","value":-5},"value":-2.5}}}}},
{"data":{"name":"info"},"transform":[{"filter":"datum.ch==13"}],"resolve":{"scale":{"y":"independent"}},"layer":[
{"layer":[
{"mark":{"type":"rule","color":"#dc3a2e","strokeWidth":1.2},"encoding":{"x":{"datum":1000},"y":{"datum":0,"scale":{"domain":[0,1],"nice":false},"axis":null},"y2":{"datum":1}}},
{"mark":{"type":"text","style":"big"},"encoding":{"x":{"datum":2140},"y":{"datum":0.8,"scale":{"domain":[0,1],"nice":false},"axis":null},"text":{"field":"label"}}},
{"mark":{"type":"text","style":"big"},"encoding":{"x":{"datum":2140},"y":{"datum":0.75,"scale":{"domain":[0,1],"nice":false},"axis":null},"text":{"field":"gain"}}},
{"mark":{"type":"rect","fill":"white","stroke":"black","strokeWidth":0.8},"encoding":{"x":{"datum":2750},"x2":{"datum":3400},"y":{"datum":0.932,"scale":{"domain":[0,1],"nice":false},"axis":null},"y2":{"datum":0.775}}},
{"mark":{"type":"rule","color":"black","strokeWidth":0.5},"encoding":{"x":{"datum":2750},"x2":{"datum":3400},"y":{"datum":0.898,"scale":{"domain":[0,1],"nice":false},"axis":null}}},
{"mark":{"type":"text","style":"stt"},"encoding":{"x":{"datum":3075},"y":{"datum":0.915,"scale":{"domain":[0,1],"nice":false},"axis":null},"text":{"field":"h"}}},
{"mark":{"type":"text","style":"stl","text":"Entries"},"encoding":{"x":{"datum":2795},"y":{"datum":0.867,"scale":{"domain":[0,1],"nice":false},"axis":null}}},
{"mark":{"type":"text","style":"stl","text":"Mean"},"encoding":{"x":{"datum":2795},"y":{"datum":0.83,"scale":{"domain":[0,1],"nice":false},"axis":null}}},
{"mark":{"type":"text","style":"stl","text":"Std Dev"},"encoding":{"x":{"datum":2795},"y":{"datum":0.792,"scale":{"domain":[0,1],"nice":false},"axis":null}}},
{"mark":{"type":"text","style":"str"},"encoding":{"x":{"datum":3355},"y":{"datum":0.867,"scale":{"domain":[0,1],"nice":false},"axis":null},"text":{"field":"e"}}},
{"mark":{"type":"text","style":"str"},"encoding":{"x":{"datum":3355},"y":{"datum":0.83,"scale":{"domain":[0,1],"nice":false},"axis":null},"text":{"field":"m"}}},
{"mark":{"type":"text","style":"str"},"encoding":{"x":{"datum":3355},"y":{"datum":0.792,"scale":{"domain":[0,1],"nice":false},"axis":null},"text":{"field":"s"}}}
]},
{"mark":"point","encoding":{"x":{"field":"px","type":"quantitative","title":null},"y":{"field":"py","type":"quantitative","scale":{"domain":[0,73],"nice":false},"axis":null}}}
]}]},
{"width":204,"height":198,"resolve":{"scale":{"y":"independent"}},"layer":[
{"data":{"name":"hist"},"transform":[{"filter":"datum.ch==14"}],"mark":{"type":"line","interpolate":"step-after","clip":true},"encoding":{"x":{"field":"adc","type":"quantitative","scale":{"domain":[200,3480],"nice":false},"title":null,"axis":{"labels":true,"tickSize":{"condition":{"test":"datum.value % 500 == 0","value":-5},"value":-2.5}}},"y":{"field":"n","type":"quantitative","scale":{"domain":[0,105],"nice":false},"title":null,"axis":{"tickSize":{"condition":{"test":"datum.value % 10 == 0","value":-5},"value":-2.5}}}}},
{"data":{"name":"info"},"transform":[{"filter":"datum.ch==14"}],"resolve":{"scale":{"y":"independent"}},"layer":[
{"layer":[
{"mark":{"type":"rule","color":"#dc3a2e","strokeWidth":1.2},"encoding":{"x":{"datum":1000},"y":{"datum":0,"scale":{"domain":[0,1],"nice":false},"axis":null},"y2":{"datum":1}}},
{"mark":{"type":"text","style":"big"},"encoding":{"x":{"datum":2140},"y":{"datum":0.8,"scale":{"domain":[0,1],"nice":false},"axis":null},"text":{"field":"label"}}},
{"mark":{"type":"text","style":"big"},"encoding":{"x":{"datum":2140},"y":{"datum":0.75,"scale":{"domain":[0,1],"nice":false},"axis":null},"text":{"field":"gain"}}},
{"mark":{"type":"rect","fill":"white","stroke":"black","strokeWidth":0.8},"encoding":{"x":{"datum":2750},"x2":{"datum":3400},"y":{"datum":0.932,"scale":{"domain":[0,1],"nice":false},"axis":null},"y2":{"datum":0.775}}},
{"mark":{"type":"rule","color":"black","strokeWidth":0.5},"encoding":{"x":{"datum":2750},"x2":{"datum":3400},"y":{"datum":0.898,"scale":{"domain":[0,1],"nice":false},"axis":null}}},
{"mark":{"type":"text","style":"stt"},"encoding":{"x":{"datum":3075},"y":{"datum":0.915,"scale":{"domain":[0,1],"nice":false},"axis":null},"text":{"field":"h"}}},
{"mark":{"type":"text","style":"stl","text":"Entries"},"encoding":{"x":{"datum":2795},"y":{"datum":0.867,"scale":{"domain":[0,1],"nice":false},"axis":null}}},
{"mark":{"type":"text","style":"stl","text":"Mean"},"encoding":{"x":{"datum":2795},"y":{"datum":0.83,"scale":{"domain":[0,1],"nice":false},"axis":null}}},
{"mark":{"type":"text","style":"stl","text":"Std Dev"},"encoding":{"x":{"datum":2795},"y":{"datum":0.792,"scale":{"domain":[0,1],"nice":false},"axis":null}}},
{"mark":{"type":"text","style":"str"},"encoding":{"x":{"datum":3355},"y":{"datum":0.867,"scale":{"domain":[0,1],"nice":false},"axis":null},"text":{"field":"e"}}},
{"mark":{"type":"text","style":"str"},"encoding":{"x":{"datum":3355},"y":{"datum":0.83,"scale":{"domain":[0,1],"nice":false},"axis":null},"text":{"field":"m"}}},
{"mark":{"type":"text","style":"str"},"encoding":{"x":{"datum":3355},"y":{"datum":0.792,"scale":{"domain":[0,1],"nice":false},"axis":null},"text":{"field":"s"}}}
]},
{"mark":"point","encoding":{"x":{"field":"px","type":"quantitative","title":null},"y":{"field":"py","type":"quantitative","scale":{"domain":[0,105],"nice":false},"axis":null}}}
]}]},
{"width":204,"height":198,"resolve":{"scale":{"y":"independent"}},"layer":[
{"data":{"name":"hist"},"transform":[{"filter":"datum.ch==15"}],"mark":{"type":"line","interpolate":"step-after","clip":true},"encoding":{"x":{"field":"adc","type":"quantitative","scale":{"domain":[200,3480],"nice":false},"title":null,"axis":{"labels":true,"tickSize":{"condition":{"test":"datum.value % 500 == 0","value":-5},"value":-2.5}}},"y":{"field":"n","type":"quantitative","scale":{"domain":[0,76],"nice":false},"title":null,"axis":{"tickSize":{"condition":{"test":"datum.value % 10 == 0","value":-5},"value":-2.5}}}}},
{"data":{"name":"info"},"transform":[{"filter":"datum.ch==15"}],"resolve":{"scale":{"y":"independent"}},"layer":[
{"layer":[
{"mark":{"type":"rule","color":"#dc3a2e","strokeWidth":1.2},"encoding":{"x":{"datum":1000},"y":{"datum":0,"scale":{"domain":[0,1],"nice":false},"axis":null},"y2":{"datum":1}}},
{"mark":{"type":"text","style":"big"},"encoding":{"x":{"datum":2140},"y":{"datum":0.8,"scale":{"domain":[0,1],"nice":false},"axis":null},"text":{"field":"label"}}},
{"mark":{"type":"text","style":"big"},"encoding":{"x":{"datum":2140},"y":{"datum":0.75,"scale":{"domain":[0,1],"nice":false},"axis":null},"text":{"field":"gain"}}},
{"mark":{"type":"rect","fill":"white","stroke":"black","strokeWidth":0.8},"encoding":{"x":{"datum":2750},"x2":{"datum":3400},"y":{"datum":0.932,"scale":{"domain":[0,1],"nice":false},"axis":null},"y2":{"datum":0.775}}},
{"mark":{"type":"rule","color":"black","strokeWidth":0.5},"encoding":{"x":{"datum":2750},"x2":{"datum":3400},"y":{"datum":0.898,"scale":{"domain":[0,1],"nice":false},"axis":null}}},
{"mark":{"type":"text","style":"stt"},"encoding":{"x":{"datum":3075},"y":{"datum":0.915,"scale":{"domain":[0,1],"nice":false},"axis":null},"text":{"field":"h"}}},
{"mark":{"type":"text","style":"stl","text":"Entries"},"encoding":{"x":{"datum":2795},"y":{"datum":0.867,"scale":{"domain":[0,1],"nice":false},"axis":null}}},
{"mark":{"type":"text","style":"stl","text":"Mean"},"encoding":{"x":{"datum":2795},"y":{"datum":0.83,"scale":{"domain":[0,1],"nice":false},"axis":null}}},
{"mark":{"type":"text","style":"stl","text":"Std Dev"},"encoding":{"x":{"datum":2795},"y":{"datum":0.792,"scale":{"domain":[0,1],"nice":false},"axis":null}}},
{"mark":{"type":"text","style":"str"},"encoding":{"x":{"datum":3355},"y":{"datum":0.867,"scale":{"domain":[0,1],"nice":false},"axis":null},"text":{"field":"e"}}},
{"mark":{"type":"text","style":"str"},"encoding":{"x":{"datum":3355},"y":{"datum":0.83,"scale":{"domain":[0,1],"nice":false},"axis":null},"text":{"field":"m"}}},
{"mark":{"type":"text","style":"str"},"encoding":{"x":{"datum":3355},"y":{"datum":0.792,"scale":{"domain":[0,1],"nice":false},"axis":null},"text":{"field":"s"}}},
{"mark":{"type":"text","style":"pg","text":"1"},"encoding":{"x":{"datum":3641},"y":{"datum":0.03,"scale":{"domain":[0,1],"nice":false},"axis":null}}}
]},
{"mark":"point","encoding":{"x":{"field":"px","type":"quantitative","title":null},"y":{"field":"py","type":"quantitative","scale":{"domain":[0,76],"nice":false},"axis":null}}}
]}]}
],
"config":{
"view":{"stroke":"black","strokeWidth":1,"fill":"white"},
"axis":{"domain":false,"grid":false,"labels":false,"tickColor":"black","tickWidth":0.7,"labelFont":"Liberation Sans","labelFontSize":6,"labelColor":"#333333","labelPadding":8,"labelOverlap":false,"labelFlush":false},
"axisX":{"tickCount":33,"labelExpr":"datum.value % 500 ? '' : format(datum.value, 'd')"},
"axisY":{"tickCount":22},
"line":{"color":"#00008b","strokeWidth":1.2},
"point":{"shape":"triangle-down","filled":true,"color":"#ff0000","size":95,"opacity":1},
"text":{"font":"Liberation Sans","color":"black"},
"style":{
"big":{"fontSize":9,"fontWeight":"bold","align":"left","baseline":"alphabetic"},
"stt":{"fontSize":3.5,"align":"center","baseline":"middle"},
"stl":{"fontSize":4,"align":"left","baseline":"middle"},
"str":{"fontSize":4,"align":"right","baseline":"middle"},
"pg":{"fontSize":22,"color":"#f2b800","align":"right","baseline":"alphabetic"}
}
}
}
